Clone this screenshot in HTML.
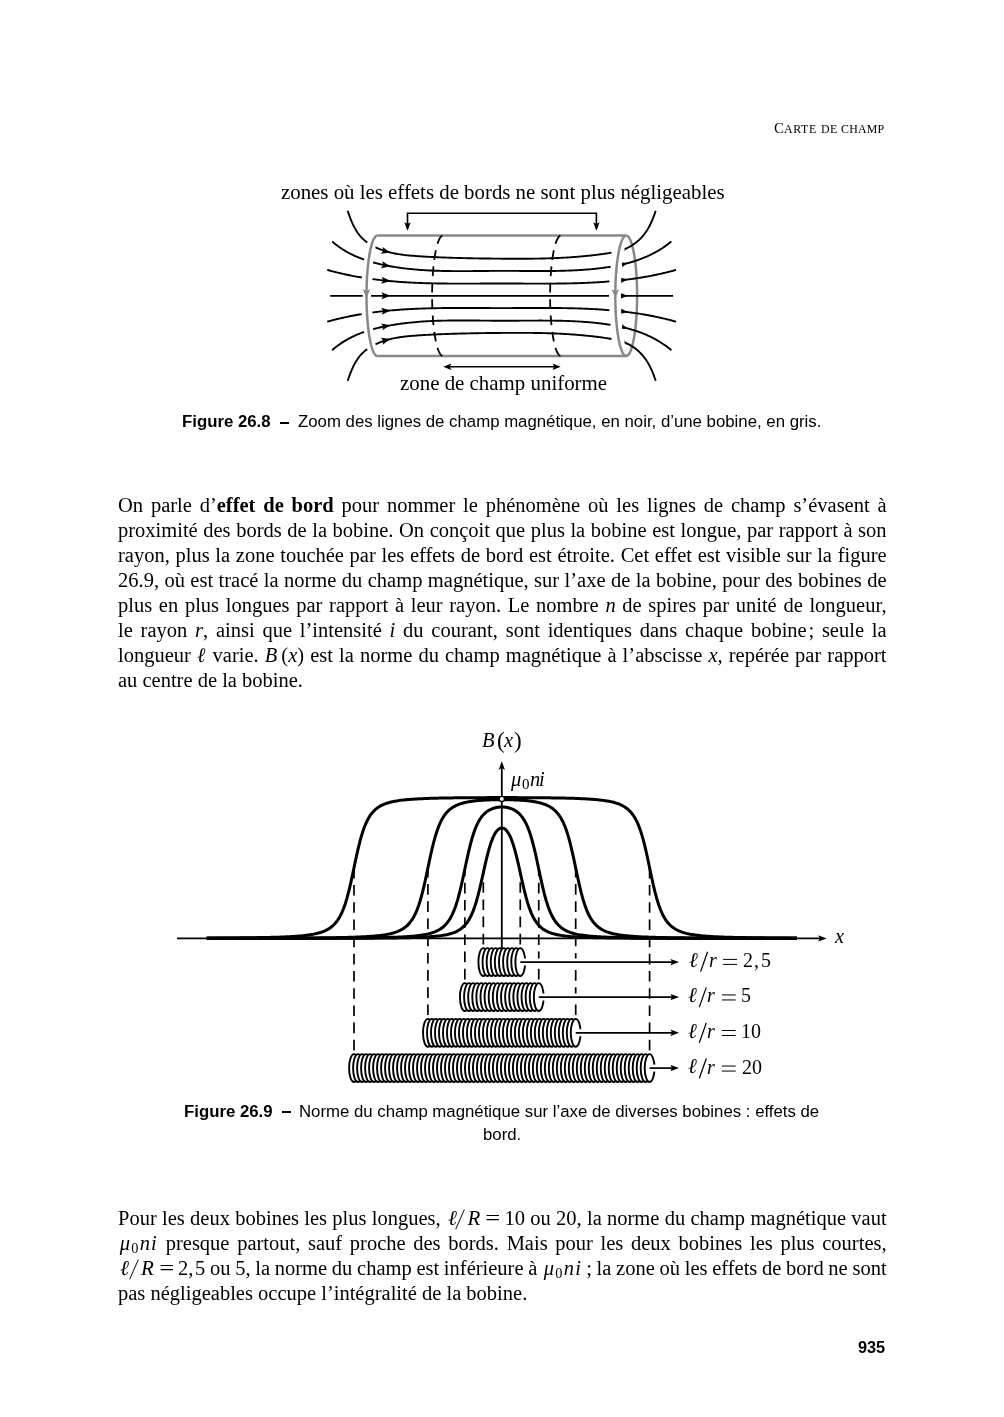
<!DOCTYPE html>
<html><head><meta charset="utf-8"><style>
html,body{margin:0;padding:0;background:#fff;}
body{width:1004px;height:1417px;position:relative;overflow:hidden;font-family:'Liberation Serif', serif;color:#000;}
.ln{position:absolute;will-change:transform;line-height:25px;white-space:nowrap;}
.ab{position:absolute;will-change:transform;white-space:nowrap;}
sub{font-size:0.7em;vertical-align:-0.2em;line-height:0;}
svg{position:absolute;left:0;top:0;}
</style></head><body>
<svg width="1004" height="1417" viewBox="0 0 1004 1417"><defs><clipPath id="cr0"><rect x="624.6" y="150" width="100" height="300"/></clipPath><clipPath id="cr1"><rect x="622.2" y="150" width="100" height="300"/></clipPath><clipPath id="cr2"><rect x="621.3" y="150" width="100" height="300"/></clipPath><clipPath id="cr3"><rect x="621" y="150" width="100" height="300"/></clipPath></defs><polyline points="626.20,235.60 626.77,235.68 627.34,235.93 627.91,236.34 628.47,236.92 629.02,237.65 629.57,238.55 630.11,239.60 630.63,240.80 631.15,242.16 631.65,243.67 632.14,245.31 632.61,247.10 633.06,249.02 633.49,251.06 633.91,253.23 634.30,255.52 634.67,257.91 635.02,260.42 635.34,263.01 635.64,265.70 635.91,268.47 636.16,271.31 636.38,274.23 636.57,277.20 636.73,280.22 636.86,283.28 636.97,286.38 637.04,289.51 637.09,292.65 637.10,295.80 637.09,298.95 637.04,302.09 636.97,305.22 636.86,308.32 636.73,311.38 636.57,314.40 636.38,317.37 636.16,320.29 635.91,323.13 635.64,325.90 635.34,328.59 635.02,331.18 634.67,333.69 634.30,336.08 633.91,338.37 633.49,340.54 633.06,342.58 632.61,344.50 632.14,346.29 631.65,347.93 631.15,349.44 630.63,350.80 630.11,352.00 629.57,353.05 629.02,353.95 628.47,354.68 627.91,355.26 627.34,355.67 626.77,355.92 626.20,356.00" fill="none" stroke="#888888" stroke-width="2.5"/><line x1="377.4" y1="235.60" x2="626.2" y2="235.60" stroke="#888888" stroke-width="2.5"/><line x1="377.4" y1="356.00" x2="626.2" y2="356.00" stroke="#888888" stroke-width="2.5"/><polyline points="377.40,235.60 376.83,235.68 376.26,235.93 375.69,236.34 375.13,236.92 374.58,237.65 374.03,238.55 373.49,239.60 372.97,240.80 372.45,242.16 371.95,243.67 371.46,245.31 370.99,247.10 370.54,249.02 370.11,251.06 369.69,253.23 369.30,255.52 368.93,257.91 368.58,260.42 368.26,263.01 367.96,265.70 367.69,268.47 367.44,271.31 367.22,274.23 367.03,277.20 366.87,280.22 366.74,283.28 366.63,286.38 366.56,289.51 366.51,292.65 366.50,295.80 366.51,298.95 366.56,302.09 366.63,305.22 366.74,308.32 366.87,311.38 367.03,314.40 367.22,317.37 367.44,320.29 367.69,323.13 367.96,325.90 368.26,328.59 368.58,331.18 368.93,333.69 369.30,336.08 369.69,338.37 370.11,340.54 370.54,342.58 370.99,344.50 371.46,346.29 371.95,347.93 372.45,349.44 372.97,350.80 373.49,352.00 374.03,353.05 374.58,353.95 375.13,354.68 375.69,355.26 376.26,355.67 376.83,355.92 377.40,356.00" fill="none" stroke="#888888" stroke-width="2.5"/><polyline points="626.20,235.60 625.63,235.68 625.06,235.93 624.49,236.34 623.93,236.92 623.38,237.65 622.83,238.55 622.29,239.60 621.77,240.80 621.25,242.16 620.75,243.67 620.26,245.31 619.79,247.10 619.34,249.02 618.91,251.06 618.49,253.23 618.10,255.52 617.73,257.91 617.38,260.42 617.06,263.01 616.76,265.70 616.49,268.47 616.24,271.31 616.02,274.23 615.83,277.20 615.67,280.22 615.54,283.28 615.43,286.38 615.36,289.51 615.31,292.65 615.30,295.80 615.31,298.95 615.36,302.09 615.43,305.22 615.54,308.32 615.67,311.38 615.83,314.40 616.02,317.37 616.24,320.29 616.49,323.13 616.76,325.90 617.06,328.59 617.38,331.18 617.73,333.69 618.10,336.08 618.49,338.37 618.91,340.54 619.34,342.58 619.79,344.50 620.26,346.29 620.75,347.93 621.25,349.44 621.77,350.80 622.29,352.00 622.83,353.05 623.38,353.95 623.93,354.68 624.49,355.26 625.06,355.67 625.63,355.92 626.20,356.00" fill="none" stroke="#888888" stroke-width="2.5"/><path d="M366.50,298.20 L362.70,289.00 Q366.50,291.10 366.50,291.60 Q366.50,291.10 370.30,289.00 Z" fill="#888888" stroke="none"/><path d="M615.30,298.20 L611.50,289.00 Q615.30,291.10 615.30,291.60 Q615.30,291.10 619.10,289.00 Z" fill="#888888" stroke="none"/><polyline points="442.43,235.68 442.14,235.79 441.86,235.93 441.58,236.12 441.29,236.34 441.01,236.61 440.73,236.92 440.46,237.26 440.18,237.65 439.90,238.08 439.63,238.55 439.36,239.05 439.09,239.60 438.83,240.18 438.57,240.80 438.31,241.46 438.05,242.16 437.80,242.90 437.55,243.67 437.30,244.47 437.06,245.31 436.83,246.19 436.59,247.10 436.36,248.04 436.14,249.02 435.92,250.02 435.71,251.06 435.50,252.13 435.29,253.23 435.09,254.36 434.90,255.52 434.71,256.70 434.53,257.91 434.35,259.15 434.18,260.42 434.02,261.70 433.86,263.01 433.71,264.35 433.56,265.70 433.42,267.08 433.29,268.47 433.16,269.88 433.04,271.31 432.93,272.76 432.82,274.23 432.73,275.70 432.63,277.20 432.55,278.70 432.47,280.22 432.40,281.75 432.34,283.28 432.28,284.83 432.23,286.38 432.19,287.94 432.16,289.51 432.13,291.08 432.11,292.65 432.10,294.22 432.10,295.80 432.10,297.38 432.11,298.95 432.13,300.52 432.16,302.09 432.19,303.66 432.23,305.22 432.28,306.77 432.34,308.32 432.40,309.85 432.47,311.38 432.55,312.90 432.63,314.40 432.73,315.90 432.82,317.37 432.93,318.84 433.04,320.29 433.16,321.72 433.29,323.13 433.42,324.52 433.56,325.90 433.71,327.25 433.86,328.59 434.02,329.90 434.18,331.18 434.35,332.45 434.53,333.69 434.71,334.90 434.90,336.08 435.09,337.24 435.29,338.37 435.50,339.47 435.71,340.54 435.92,341.58 436.14,342.58 436.36,343.56 436.59,344.50 436.83,345.41 437.06,346.29 437.30,347.13 437.55,347.93 437.80,348.70 438.05,349.44 438.31,350.14 438.57,350.80 438.83,351.42 439.09,352.00 439.36,352.55 439.63,353.05 439.90,353.52 440.18,353.95 440.46,354.34 440.73,354.68 441.01,354.99 441.29,355.26 441.58,355.48 441.86,355.67 442.14,355.81 442.43,355.92" fill="none" stroke="#000" stroke-width="1.8" stroke-dasharray="9.69 6.7"/><polyline points="560.43,235.68 560.14,235.79 559.86,235.93 559.58,236.12 559.29,236.34 559.01,236.61 558.73,236.92 558.46,237.26 558.18,237.65 557.90,238.08 557.63,238.55 557.36,239.05 557.09,239.60 556.83,240.18 556.57,240.80 556.31,241.46 556.05,242.16 555.80,242.90 555.55,243.67 555.30,244.47 555.06,245.31 554.83,246.19 554.59,247.10 554.36,248.04 554.14,249.02 553.92,250.02 553.71,251.06 553.50,252.13 553.29,253.23 553.09,254.36 552.90,255.52 552.71,256.70 552.53,257.91 552.35,259.15 552.18,260.42 552.02,261.70 551.86,263.01 551.71,264.35 551.56,265.70 551.42,267.08 551.29,268.47 551.16,269.88 551.04,271.31 550.93,272.76 550.82,274.23 550.73,275.70 550.63,277.20 550.55,278.70 550.47,280.22 550.40,281.75 550.34,283.28 550.28,284.83 550.23,286.38 550.19,287.94 550.16,289.51 550.13,291.08 550.11,292.65 550.10,294.22 550.10,295.80 550.10,297.38 550.11,298.95 550.13,300.52 550.16,302.09 550.19,303.66 550.23,305.22 550.28,306.77 550.34,308.32 550.40,309.85 550.47,311.38 550.55,312.90 550.63,314.40 550.73,315.90 550.82,317.37 550.93,318.84 551.04,320.29 551.16,321.72 551.29,323.13 551.42,324.52 551.56,325.90 551.71,327.25 551.86,328.59 552.02,329.90 552.18,331.18 552.35,332.45 552.53,333.69 552.71,334.90 552.90,336.08 553.09,337.24 553.29,338.37 553.50,339.47 553.71,340.54 553.92,341.58 554.14,342.58 554.36,343.56 554.59,344.50 554.83,345.41 555.06,346.29 555.30,347.13 555.55,347.93 555.80,348.70 556.05,349.44 556.31,350.14 556.57,350.80 556.83,351.42 557.09,352.00 557.36,352.55 557.63,353.05 557.90,353.52 558.18,353.95 558.46,354.34 558.73,354.68 559.01,354.99 559.29,355.26 559.58,355.48 559.86,355.67 560.14,355.81 560.43,355.92" fill="none" stroke="#000" stroke-width="1.8" stroke-dasharray="9.69 6.7"/><polyline points="347.67,210.75 348.10,212.04 348.54,213.34 349.00,214.64 349.46,215.93 349.93,217.22 350.42,218.51 350.92,219.79 351.44,221.06 351.98,222.32 352.54,223.56 353.11,224.80 353.71,226.02 354.33,227.23 354.98,228.41 355.65,229.58 356.34,230.73 357.07,231.86 357.82,232.96 358.61,234.04 359.43,235.10 360.28,236.12 361.16,237.12 362.08,238.08 363.04,239.02 364.03,239.92 365.06,240.79 366.12,241.63 367.21,242.43" fill="none" stroke="#000" stroke-width="1.9" stroke-linecap="butt" stroke-linejoin="round"/><polyline points="375.47,247.26 376.71,247.84 377.96,248.39 379.22,248.92 380.49,249.42 381.76,249.90 383.03,250.35 384.30,250.78 385.58,251.18 386.86,251.57 388.14,251.93 389.43,252.27 390.72,252.59 392.01,252.90 393.30,253.18 394.60,253.45 395.89,253.70 397.20,253.94 398.50,254.16 399.81,254.37 401.11,254.56 402.42,254.74 403.74,254.91 405.05,255.07 406.37,255.21 407.69,255.35 409.01,255.48 410.33,255.60 411.66,255.71 412.99,255.82 414.32,255.92 415.65,256.02 416.98,256.11 418.32,256.20 419.65,256.28 420.99,256.37 422.33,256.45 423.67,256.53 425.02,256.60 426.36,256.68 427.71,256.75 429.05,256.83 430.40,256.90 431.75,256.96 433.10,257.03 434.46,257.10 435.81,257.16 437.16,257.22 438.52,257.28 439.88,257.34 441.24,257.39 442.59,257.45 443.95,257.50 445.31,257.56 446.68,257.61 448.04,257.65 449.40,257.70 450.76,257.75 452.13,257.79 453.49,257.84 454.86,257.88 456.22,257.92 457.59,257.96 458.96,258.00 460.32,258.03 461.69,258.07 463.06,258.10 464.43,258.14 465.79,258.17 467.16,258.20 468.53,258.23 469.90,258.26 471.26,258.29 472.63,258.31 474.00,258.34 475.37,258.36 476.73,258.39 478.10,258.41 479.47,258.43 480.83,258.45 482.20,258.47 483.57,258.49 484.93,258.51 486.30,258.53 487.66,258.54 489.02,258.56 490.39,258.57 491.75,258.59 493.11,258.60 494.47,258.62 495.83,258.63 497.19,258.64 498.54,258.65 499.90,258.67 501.26,258.68 502.61,258.69 503.96,258.70 505.32,258.70 506.67,258.71 508.02,258.72 509.37,258.73 510.72,258.73 512.06,258.74 513.41,258.74 514.76,258.75 516.10,258.75 517.44,258.75 518.79,258.75 520.13,258.75 521.47,258.75 522.81,258.75 524.16,258.74 525.50,258.74 526.83,258.73 528.17,258.72 529.51,258.71 530.85,258.69 532.19,258.68 533.53,258.66 534.86,258.65 536.20,258.63 537.54,258.60 538.87,258.58 540.21,258.56 541.54,258.53 542.88,258.50 544.22,258.46 545.55,258.43 546.89,258.39 548.22,258.35 549.56,258.31 550.89,258.27 552.23,258.22 553.56,258.17 554.90,258.12 556.23,258.06 557.57,258.00 558.91,257.94 560.24,257.88 561.58,257.81 562.92,257.74 564.25,257.67 565.59,257.59 566.93,257.51 568.27,257.43 569.61,257.34 570.95,257.25 572.29,257.16 573.63,257.06 574.97,256.96 576.31,256.86 577.66,256.75 579.00,256.64 580.34,256.52 581.69,256.40 583.03,256.28 584.38,256.15 585.73,256.02 587.08,255.89 588.42,255.75 589.78,255.60 591.13,255.46 592.48,255.30 593.83,255.15 595.19,254.99 596.54,254.82 597.90,254.65 599.26,254.47 600.62,254.29 601.98,254.11 603.34,253.92 604.70,253.73 606.06,253.53 607.43,253.32 608.79,253.10 610.14,252.87 611.49,252.62" fill="none" stroke="#000" stroke-width="1.9" stroke-linecap="butt" stroke-linejoin="round"/><polyline points="625.78,248.59 626.99,248.06 628.19,247.49 629.36,246.89 630.52,246.25 631.66,245.57 632.77,244.87 633.87,244.12 634.94,243.35 635.99,242.55 637.02,241.71 638.03,240.84 639.01,239.95 639.97,239.02 640.90,238.07 641.81,237.09 642.70,236.09 643.56,235.05 644.39,234.00 645.20,232.92 645.99,231.81 646.74,230.68 647.47,229.54 648.17,228.37 648.85,227.18 649.50,225.97 650.13,224.75 650.74,223.52 651.32,222.27 651.88,221.01 652.42,219.74 652.94,218.47 653.44,217.19 653.92,215.91 654.38,214.62 654.83,213.33 655.26,212.04 655.67,210.76" fill="none" stroke="#000" stroke-width="1.9" stroke-linecap="butt" stroke-linejoin="round"/><path d="M390.40,252.51 L380.92,253.75 Q383.32,250.74 383.80,250.86 Q383.32,250.74 382.62,246.96 Z" fill="#000" stroke="none"/><path d="M627.80,247.67 L621.35,254.38 Q621.38,250.71 621.84,250.50 Q621.38,250.71 618.52,248.42 Z" fill="#000" stroke="none" clip-path="url(#cr0)"/><polyline points="332.17,241.45 333.24,242.37 334.32,243.27 335.41,244.14 336.51,245.00 337.62,245.83 338.74,246.65 339.87,247.44 341.00,248.22 342.15,248.98 343.30,249.71 344.47,250.43 345.64,251.13 346.82,251.81 348.01,252.48 349.20,253.12 350.41,253.75 351.62,254.36 352.83,254.96 354.06,255.53 355.29,256.10 356.52,256.64 357.77,257.17 359.02,257.69 360.27,258.19 361.53,258.67 362.80,259.14 364.07,259.60" fill="none" stroke="#000" stroke-width="1.9" stroke-linecap="butt" stroke-linejoin="round"/><polyline points="373.09,262.42 374.39,262.77 375.70,263.12 377.01,263.45 378.32,263.77 379.63,264.08 380.95,264.38 382.27,264.67 383.59,264.95 384.92,265.22 386.24,265.49 387.57,265.74 388.89,265.99 390.22,266.23 391.55,266.46 392.88,266.69 394.21,266.91 395.54,267.12 396.87,267.32 398.20,267.52 399.53,267.71 400.86,267.89 402.20,268.07 403.53,268.24 404.86,268.41 406.20,268.57 407.53,268.72 408.87,268.87 410.20,269.01 411.54,269.14 412.88,269.27 414.22,269.40 415.55,269.52 416.89,269.63 418.23,269.74 419.57,269.84 420.91,269.94 422.25,270.04 423.60,270.13 424.94,270.21 426.28,270.29 427.62,270.36 428.97,270.44 430.31,270.50 431.66,270.56 433.00,270.62 434.35,270.68 435.69,270.73 437.04,270.78 438.39,270.82 439.73,270.86 441.08,270.90 442.43,270.93 443.78,270.96 445.13,270.99 446.48,271.02 447.83,271.04 449.18,271.06 450.53,271.07 451.88,271.09 453.24,271.10 454.59,271.11 455.94,271.12 457.30,271.12 458.65,271.12 460.01,271.13 461.36,271.13 462.72,271.12 464.07,271.12 465.43,271.12 466.79,271.11 468.14,271.10 469.50,271.09 470.86,271.09 472.22,271.08 473.58,271.06 474.93,271.05 476.29,271.04 477.65,271.03 479.01,271.02 480.38,271.00 481.74,270.99 483.10,270.98 484.46,270.96 485.82,270.95 487.19,270.94 488.55,270.93 489.91,270.91 491.28,270.90 492.64,270.89 494.01,270.88 495.37,270.87 496.74,270.87 498.10,270.86 499.47,270.86 500.84,270.85 502.20,270.85 503.57,270.85 504.94,270.85 506.30,270.85 507.67,270.86 509.04,270.86 510.41,270.87 511.78,270.87 513.15,270.88 514.52,270.89 515.89,270.90 517.26,270.91 518.62,270.92 519.99,270.93 521.36,270.94 522.73,270.95 524.10,270.95 525.47,270.96 526.84,270.97 528.21,270.98 529.58,270.99 530.95,271.00 532.32,271.01 533.68,271.01 535.05,271.02 536.42,271.02 537.79,271.03 539.16,271.03 540.52,271.03 541.89,271.03 543.26,271.03 544.62,271.03 545.99,271.02 547.35,271.01 548.72,271.00 550.08,270.99 551.44,270.98 552.81,270.97 554.17,270.95 555.53,270.93 556.89,270.91 558.25,270.88 559.61,270.85 560.97,270.82 562.33,270.79 563.69,270.75 565.05,270.71 566.40,270.67 567.76,270.62 569.11,270.57 570.47,270.52 571.82,270.46 573.17,270.40 574.52,270.34 575.87,270.27 577.22,270.20 578.57,270.12 579.91,270.04 581.26,269.95 582.60,269.86 583.95,269.77 585.29,269.67 586.63,269.56 587.97,269.46 589.31,269.34 590.65,269.22 591.98,269.10 593.32,268.97 594.65,268.83 595.99,268.69 597.32,268.54 598.65,268.39 599.97,268.23 601.30,268.07 602.63,267.90 603.95,267.72 605.27,267.54 606.59,267.35 607.91,267.16 609.23,266.95 610.55,266.74" fill="none" stroke="#000" stroke-width="1.9" stroke-linecap="butt" stroke-linejoin="round"/><polyline points="622.31,264.46 623.61,264.16 624.91,263.85 626.20,263.52 627.50,263.19 628.79,262.84 630.08,262.49 631.36,262.11 632.65,261.73 633.93,261.34 635.21,260.93 636.49,260.51 637.76,260.07 639.03,259.62 640.30,259.16 641.56,258.68 642.82,258.19 644.07,257.69 645.33,257.17 646.57,256.63 647.81,256.08 649.05,255.51 650.28,254.93 651.51,254.33 652.73,253.72 653.94,253.09 655.15,252.44 656.36,251.77 657.55,251.09 658.74,250.39 659.93,249.67 661.10,248.93 662.27,248.18 663.43,247.40 664.59,246.61 665.73,245.80 666.87,244.97 668.00,244.12 669.12,243.25 670.23,242.36 671.34,241.45" fill="none" stroke="#000" stroke-width="1.9" stroke-linecap="butt" stroke-linejoin="round"/><path d="M390.40,266.26 L381.03,268.17 Q383.21,265.00 383.70,265.09 Q383.21,265.00 382.24,261.28 Z" fill="#000" stroke="none"/><path d="M627.80,263.11 L620.25,268.55 Q620.94,264.95 621.43,264.82 Q620.94,264.95 618.54,262.18 Z" fill="#000" stroke="none" clip-path="url(#cr1)"/><polyline points="327.23,269.90 328.55,270.27 329.87,270.63 331.19,270.98 332.51,271.33 333.84,271.67 335.16,272.01 336.49,272.34 337.81,272.66 339.14,272.98 340.46,273.29 341.79,273.59 343.12,273.89 344.44,274.19 345.77,274.47 347.10,274.76 348.43,275.03 349.76,275.30 351.09,275.57 352.42,275.83 353.75,276.08 355.08,276.33 356.42,276.57 357.75,276.81 359.08,277.04 360.42,277.27 361.75,277.49" fill="none" stroke="#000" stroke-width="1.9" stroke-linecap="butt" stroke-linejoin="round"/><polyline points="372.45,279.08 373.78,279.26 375.12,279.43 376.46,279.60 377.80,279.77 379.14,279.93 380.48,280.08 381.83,280.23 383.17,280.38 384.51,280.52 385.85,280.66 387.20,280.80 388.54,280.93 389.88,281.05 391.23,281.18 392.57,281.30 393.92,281.41 395.26,281.52 396.61,281.63 397.95,281.73 399.30,281.83 400.65,281.93 401.99,282.03 403.34,282.12 404.69,282.20 406.04,282.29 407.39,282.37 408.74,282.44 410.08,282.52 411.43,282.59 412.78,282.66 414.13,282.72 415.48,282.79 416.84,282.85 418.19,282.90 419.54,282.96 420.89,283.01 422.24,283.06 423.59,283.11 424.95,283.15 426.30,283.19 427.65,283.23 429.00,283.27 430.36,283.30 431.71,283.34 433.07,283.37 434.42,283.40 435.77,283.42 437.13,283.45 438.48,283.47 439.84,283.49 441.19,283.51 442.55,283.53 443.91,283.55 445.26,283.56 446.62,283.57 447.97,283.58 449.33,283.59 450.69,283.60 452.04,283.61 453.40,283.62 454.76,283.62 456.12,283.63 457.47,283.63 458.83,283.63 460.19,283.63 461.55,283.63 462.90,283.63 464.26,283.63 465.62,283.63 466.98,283.62 468.34,283.62 469.70,283.62 471.06,283.61 472.42,283.61 473.77,283.60 475.13,283.59 476.49,283.59 477.85,283.58 479.21,283.58 480.57,283.57 481.93,283.56 483.29,283.56 484.65,283.55 486.01,283.54 487.37,283.54 488.73,283.53 490.09,283.53 491.45,283.52 492.81,283.52 494.17,283.51 495.53,283.51 496.89,283.51 498.25,283.50 499.61,283.50 500.97,283.50 502.33,283.50 503.69,283.50 505.05,283.50 506.41,283.51 507.77,283.51 509.13,283.51 510.49,283.52 511.85,283.52 513.21,283.53 514.57,283.53 515.93,283.54 517.29,283.54 518.65,283.55 520.01,283.56 521.37,283.56 522.73,283.57 524.09,283.58 525.45,283.58 526.81,283.59 528.17,283.59 529.53,283.60 530.88,283.61 532.24,283.61 533.60,283.62 534.96,283.62 536.32,283.62 537.68,283.63 539.04,283.63 540.40,283.63 541.75,283.63 543.11,283.63 544.47,283.63 545.83,283.63 547.18,283.63 548.54,283.62 549.90,283.62 551.26,283.61 552.61,283.60 553.97,283.59 555.33,283.58 556.68,283.57 558.04,283.56 559.39,283.55 560.75,283.53 562.11,283.51 563.46,283.49 564.82,283.47 566.17,283.45 567.53,283.42 568.88,283.40 570.23,283.37 571.59,283.34 572.94,283.30 574.30,283.27 575.65,283.23 577.00,283.19 578.35,283.15 579.71,283.11 581.06,283.06 582.41,283.01 583.76,282.96 585.11,282.90 586.46,282.85 587.82,282.79 589.17,282.72 590.52,282.66 591.87,282.59 593.22,282.52 594.56,282.44 595.91,282.37 597.26,282.29 598.61,282.20 599.96,282.12 601.31,282.03 602.65,281.93 604.00,281.83 605.35,281.73 606.69,281.63 608.04,281.52 609.38,281.41" fill="none" stroke="#000" stroke-width="1.9" stroke-linecap="butt" stroke-linejoin="round"/><polyline points="621.47,280.23 622.82,280.08 624.16,279.93 625.50,279.77 626.84,279.60 628.18,279.43 629.52,279.26 630.85,279.08 632.19,278.90 633.53,278.71 634.87,278.52 636.20,278.32 637.54,278.12 638.88,277.92 640.21,277.70 641.55,277.49 642.88,277.27 644.22,277.04 645.55,276.81 646.88,276.57 648.22,276.33 649.55,276.08 650.88,275.83 652.21,275.57 653.54,275.30 654.87,275.03 656.20,274.76 657.53,274.47 658.86,274.19 660.18,273.89 661.51,273.59 662.84,273.29 664.16,272.98 665.49,272.66 666.81,272.34 668.14,272.01 669.46,271.67 670.79,271.33 672.11,270.98 673.43,270.63 674.75,270.27 676.07,269.90" fill="none" stroke="#000" stroke-width="1.9" stroke-linecap="butt" stroke-linejoin="round"/><path d="M390.40,281.10 L381.22,283.78 Q383.13,280.44 383.63,280.48 Q383.13,280.44 381.86,276.81 Z" fill="#000" stroke="none"/><path d="M627.80,279.48 L619.58,283.84 Q620.76,280.37 621.25,280.31 Q620.76,280.37 618.76,277.29 Z" fill="#000" stroke="none" clip-path="url(#cr2)"/><line x1="330.2" y1="295.8" x2="362.7" y2="295.8" stroke="#000" stroke-width="1.8"/><line x1="371.1" y1="295.8" x2="609" y2="295.8" stroke="#000" stroke-width="1.8"/><line x1="621" y1="295.8" x2="673.1" y2="295.8" stroke="#000" stroke-width="1.8"/><path d="M390.40,295.80 L381.50,299.30 Q383.10,295.80 383.60,295.80 Q383.10,295.80 381.50,292.30 Z" fill="#000" stroke="none"/><path d="M627.80,295.80 L619.10,299.10 Q620.70,295.80 621.20,295.80 Q620.70,295.80 619.10,292.50 Z" fill="#000" stroke="none" clip-path="url(#cr3)"/><polyline points="327.23,321.70 328.55,321.33 329.87,320.97 331.19,320.62 332.51,320.27 333.84,319.93 335.16,319.59 336.49,319.26 337.81,318.94 339.14,318.62 340.46,318.31 341.79,318.01 343.12,317.71 344.44,317.41 345.77,317.13 347.10,316.84 348.43,316.57 349.76,316.30 351.09,316.03 352.42,315.77 353.75,315.52 355.08,315.27 356.42,315.03 357.75,314.79 359.08,314.56 360.42,314.33 361.75,314.11" fill="none" stroke="#000" stroke-width="1.9" stroke-linecap="butt" stroke-linejoin="round"/><polyline points="372.45,312.52 373.78,312.34 375.12,312.17 376.46,312.00 377.80,311.83 379.14,311.67 380.48,311.52 381.83,311.37 383.17,311.22 384.51,311.08 385.85,310.94 387.20,310.80 388.54,310.67 389.88,310.55 391.23,310.42 392.57,310.30 393.92,310.19 395.26,310.08 396.61,309.97 397.95,309.87 399.30,309.77 400.65,309.67 401.99,309.57 403.34,309.48 404.69,309.40 406.04,309.31 407.39,309.23 408.74,309.16 410.08,309.08 411.43,309.01 412.78,308.94 414.13,308.88 415.48,308.81 416.84,308.75 418.19,308.70 419.54,308.64 420.89,308.59 422.24,308.54 423.59,308.49 424.95,308.45 426.30,308.41 427.65,308.37 429.00,308.33 430.36,308.30 431.71,308.26 433.07,308.23 434.42,308.20 435.77,308.18 437.13,308.15 438.48,308.13 439.84,308.11 441.19,308.09 442.55,308.07 443.91,308.05 445.26,308.04 446.62,308.03 447.97,308.02 449.33,308.01 450.69,308.00 452.04,307.99 453.40,307.98 454.76,307.98 456.12,307.97 457.47,307.97 458.83,307.97 460.19,307.97 461.55,307.97 462.90,307.97 464.26,307.97 465.62,307.97 466.98,307.98 468.34,307.98 469.70,307.98 471.06,307.99 472.42,307.99 473.77,308.00 475.13,308.01 476.49,308.01 477.85,308.02 479.21,308.02 480.57,308.03 481.93,308.04 483.29,308.04 484.65,308.05 486.01,308.06 487.37,308.06 488.73,308.07 490.09,308.07 491.45,308.08 492.81,308.08 494.17,308.09 495.53,308.09 496.89,308.09 498.25,308.10 499.61,308.10 500.97,308.10 502.33,308.10 503.69,308.10 505.05,308.10 506.41,308.09 507.77,308.09 509.13,308.09 510.49,308.08 511.85,308.08 513.21,308.07 514.57,308.07 515.93,308.06 517.29,308.06 518.65,308.05 520.01,308.04 521.37,308.04 522.73,308.03 524.09,308.02 525.45,308.02 526.81,308.01 528.17,308.01 529.53,308.00 530.88,307.99 532.24,307.99 533.60,307.98 534.96,307.98 536.32,307.98 537.68,307.97 539.04,307.97 540.40,307.97 541.75,307.97 543.11,307.97 544.47,307.97 545.83,307.97 547.18,307.97 548.54,307.98 549.90,307.98 551.26,307.99 552.61,308.00 553.97,308.01 555.33,308.02 556.68,308.03 558.04,308.04 559.39,308.05 560.75,308.07 562.11,308.09 563.46,308.11 564.82,308.13 566.17,308.15 567.53,308.18 568.88,308.20 570.23,308.23 571.59,308.26 572.94,308.30 574.30,308.33 575.65,308.37 577.00,308.41 578.35,308.45 579.71,308.49 581.06,308.54 582.41,308.59 583.76,308.64 585.11,308.70 586.46,308.75 587.82,308.81 589.17,308.88 590.52,308.94 591.87,309.01 593.22,309.08 594.56,309.16 595.91,309.23 597.26,309.31 598.61,309.40 599.96,309.48 601.31,309.57 602.65,309.67 604.00,309.77 605.35,309.87 606.69,309.97 608.04,310.08 609.38,310.19" fill="none" stroke="#000" stroke-width="1.9" stroke-linecap="butt" stroke-linejoin="round"/><polyline points="621.47,311.37 622.82,311.52 624.16,311.67 625.50,311.83 626.84,312.00 628.18,312.17 629.52,312.34 630.85,312.52 632.19,312.70 633.53,312.89 634.87,313.08 636.20,313.28 637.54,313.48 638.88,313.68 640.21,313.90 641.55,314.11 642.88,314.33 644.22,314.56 645.55,314.79 646.88,315.03 648.22,315.27 649.55,315.52 650.88,315.77 652.21,316.03 653.54,316.30 654.87,316.57 656.20,316.84 657.53,317.13 658.86,317.41 660.18,317.71 661.51,318.01 662.84,318.31 664.16,318.62 665.49,318.94 666.81,319.26 668.14,319.59 669.46,319.93 670.79,320.27 672.11,320.62 673.43,320.97 674.75,321.33 676.07,321.70" fill="none" stroke="#000" stroke-width="1.9" stroke-linecap="butt" stroke-linejoin="round"/><path d="M390.40,310.50 L381.86,314.79 Q383.13,311.16 383.63,311.12 Q383.13,311.16 381.22,307.82 Z" fill="#000" stroke="none"/><path d="M627.80,312.12 L618.76,314.31 Q620.76,311.23 621.25,311.29 Q620.76,311.23 619.58,307.76 Z" fill="#000" stroke="none" clip-path="url(#cr2)"/><polyline points="332.17,350.18 333.24,349.25 334.32,348.35 335.41,347.46 336.51,346.60 337.62,345.76 338.74,344.94 339.87,344.14 341.00,343.36 342.15,342.60 343.30,341.86 344.47,341.14 345.64,340.44 346.82,339.76 348.01,339.10 349.20,338.45 350.41,337.83 351.62,337.21 352.83,336.62 354.06,336.04 355.29,335.48 356.52,334.94 357.77,334.41 359.02,333.90 360.27,333.40 361.53,332.92 362.80,332.45 364.07,332.00" fill="none" stroke="#000" stroke-width="1.9" stroke-linecap="butt" stroke-linejoin="round"/><polyline points="373.09,329.18 374.39,328.83 375.70,328.49 377.01,328.16 378.32,327.84 379.63,327.53 380.95,327.23 382.27,326.94 383.59,326.66 384.92,326.39 386.24,326.12 387.57,325.87 388.89,325.62 390.22,325.38 391.55,325.15 392.88,324.92 394.21,324.70 395.54,324.49 396.87,324.29 398.20,324.09 399.53,323.90 400.86,323.72 402.20,323.54 403.53,323.37 404.86,323.20 406.20,323.04 407.53,322.89 408.87,322.74 410.20,322.60 411.54,322.46 412.88,322.33 414.22,322.21 415.55,322.09 416.89,321.98 418.23,321.87 419.57,321.76 420.91,321.66 422.25,321.57 423.60,321.48 424.94,321.40 426.28,321.32 427.62,321.24 428.97,321.17 430.31,321.10 431.66,321.04 433.00,320.98 434.35,320.92 435.69,320.87 437.04,320.82 438.39,320.78 439.73,320.74 441.08,320.70 442.43,320.67 443.78,320.64 445.13,320.61 446.48,320.58 447.83,320.56 449.18,320.54 450.53,320.52 451.88,320.51 453.24,320.50 454.59,320.49 455.94,320.48 457.30,320.47 458.65,320.47 460.01,320.47 461.36,320.47 462.72,320.47 464.07,320.47 465.43,320.48 466.79,320.48 468.14,320.49 469.50,320.50 470.86,320.51 472.22,320.52 473.58,320.53 474.93,320.54 476.29,320.55 477.65,320.56 479.01,320.57 480.38,320.59 481.74,320.60 483.10,320.61 484.46,320.63 485.82,320.64 487.19,320.65 488.55,320.66 489.91,320.67 491.28,320.69 492.64,320.70 494.01,320.71 495.37,320.71 496.74,320.72 498.10,320.73 499.47,320.73 500.84,320.74 502.20,320.74 503.57,320.74 504.94,320.74 506.30,320.74 507.67,320.73 509.04,320.73 510.41,320.72 511.78,320.72 513.15,320.71 514.52,320.70 515.89,320.70 517.26,320.69 518.62,320.68 519.99,320.67 521.36,320.66 522.73,320.65 524.10,320.64 525.47,320.63 526.84,320.62 528.21,320.62 529.58,320.61 530.95,320.60 532.32,320.59 533.68,320.59 535.05,320.58 536.42,320.58 537.79,320.58 539.16,320.57 540.52,320.57 541.89,320.57 543.26,320.58 544.62,320.58 545.99,320.59 547.35,320.59 548.72,320.60 550.08,320.61 551.44,320.63 552.81,320.64 554.17,320.66 555.53,320.68 556.89,320.70 558.25,320.73 559.61,320.76 560.97,320.79 562.33,320.82 563.69,320.86 565.05,320.90 566.40,320.94 567.76,320.99 569.11,321.04 570.47,321.09 571.82,321.15 573.17,321.21 574.52,321.28 575.87,321.34 577.22,321.42 578.57,321.49 579.91,321.58 581.26,321.66 582.60,321.75 583.95,321.85 585.29,321.94 586.63,322.05 587.97,322.16 589.31,322.27 590.65,322.39 591.98,322.51 593.32,322.64 594.65,322.78 595.99,322.92 597.32,323.06 598.65,323.21 599.97,323.37 601.30,323.54 602.63,323.70 603.95,323.88 605.27,324.06 606.59,324.25 607.91,324.44 609.23,324.65 610.55,324.85" fill="none" stroke="#000" stroke-width="1.9" stroke-linecap="butt" stroke-linejoin="round"/><polyline points="622.31,327.13 623.61,327.43 624.91,327.74 626.20,328.06 627.50,328.40 628.79,328.74 630.08,329.10 631.36,329.47 632.65,329.86 633.93,330.25 635.21,330.66 636.49,331.08 637.76,331.52 639.03,331.97 640.30,332.43 641.56,332.91 642.82,333.40 644.07,333.91 645.33,334.43 646.57,334.97 647.81,335.52 649.05,336.09 650.28,336.67 651.51,337.27 652.73,337.89 653.94,338.52 655.15,339.17 656.36,339.84 657.55,340.52 658.74,341.22 659.93,341.94 661.10,342.68 662.27,343.43 663.43,344.20 664.59,345.00 665.73,345.81 666.87,346.64 668.00,347.48 669.12,348.35 670.23,349.24 671.34,350.15" fill="none" stroke="#000" stroke-width="1.9" stroke-linecap="butt" stroke-linejoin="round"/><path d="M390.40,325.35 L382.24,330.33 Q383.21,326.61 383.70,326.52 Q383.21,326.61 381.03,323.43 Z" fill="#000" stroke="none"/><path d="M627.80,328.48 L618.54,329.41 Q620.94,326.64 621.43,326.77 Q620.94,326.64 620.25,323.04 Z" fill="#000" stroke="none" clip-path="url(#cr1)"/><polyline points="347.67,380.85 348.10,379.56 348.54,378.26 349.00,376.96 349.46,375.67 349.93,374.38 350.42,373.09 350.92,371.81 351.44,370.54 351.98,369.28 352.54,368.04 353.11,366.80 353.71,365.58 354.33,364.37 354.98,363.19 355.65,362.02 356.34,360.87 357.07,359.74 357.82,358.64 358.61,357.56 359.43,356.50 360.28,355.48 361.16,354.48 362.08,353.52 363.04,352.58 364.03,351.68 365.06,350.81 366.12,349.97 367.21,349.17" fill="none" stroke="#000" stroke-width="1.9" stroke-linecap="butt" stroke-linejoin="round"/><polyline points="375.47,344.34 376.71,343.76 377.96,343.21 379.22,342.68 380.49,342.18 381.76,341.70 383.03,341.25 384.30,340.82 385.58,340.42 386.86,340.03 388.14,339.67 389.43,339.33 390.72,339.01 392.01,338.70 393.30,338.42 394.60,338.15 395.89,337.90 397.20,337.66 398.50,337.44 399.81,337.23 401.11,337.04 402.42,336.86 403.74,336.69 405.05,336.53 406.37,336.39 407.69,336.25 409.01,336.12 410.33,336.00 411.66,335.89 412.99,335.78 414.32,335.68 415.65,335.58 416.98,335.49 418.32,335.40 419.65,335.32 420.99,335.23 422.33,335.15 423.67,335.07 425.02,335.00 426.36,334.92 427.71,334.85 429.05,334.77 430.40,334.70 431.75,334.64 433.10,334.57 434.46,334.50 435.81,334.44 437.16,334.38 438.52,334.32 439.88,334.26 441.24,334.21 442.59,334.15 443.95,334.10 445.31,334.04 446.68,333.99 448.04,333.95 449.40,333.90 450.76,333.85 452.13,333.81 453.49,333.76 454.86,333.72 456.22,333.68 457.59,333.64 458.96,333.60 460.32,333.57 461.69,333.53 463.06,333.50 464.43,333.46 465.79,333.43 467.16,333.40 468.53,333.37 469.90,333.34 471.26,333.31 472.63,333.29 474.00,333.26 475.37,333.24 476.73,333.21 478.10,333.19 479.47,333.17 480.83,333.15 482.20,333.13 483.57,333.11 484.93,333.09 486.30,333.07 487.66,333.06 489.02,333.04 490.39,333.03 491.75,333.01 493.11,333.00 494.47,332.98 495.83,332.97 497.19,332.96 498.54,332.95 499.90,332.93 501.26,332.92 502.61,332.91 503.96,332.90 505.32,332.90 506.67,332.89 508.02,332.88 509.37,332.87 510.72,332.87 512.06,332.86 513.41,332.86 514.76,332.85 516.10,332.85 517.44,332.85 518.79,332.85 520.13,332.85 521.47,332.85 522.81,332.85 524.16,332.86 525.50,332.86 526.83,332.87 528.17,332.88 529.51,332.89 530.85,332.91 532.19,332.92 533.53,332.94 534.86,332.95 536.20,332.97 537.54,333.00 538.87,333.02 540.21,333.04 541.54,333.07 542.88,333.10 544.22,333.14 545.55,333.17 546.89,333.21 548.22,333.25 549.56,333.29 550.89,333.33 552.23,333.38 553.56,333.43 554.90,333.48 556.23,333.54 557.57,333.60 558.91,333.66 560.24,333.72 561.58,333.79 562.92,333.86 564.25,333.93 565.59,334.01 566.93,334.09 568.27,334.17 569.61,334.26 570.95,334.35 572.29,334.44 573.63,334.54 574.97,334.64 576.31,334.74 577.66,334.85 579.00,334.96 580.34,335.08 581.69,335.20 583.03,335.32 584.38,335.45 585.73,335.58 587.08,335.71 588.42,335.85 589.78,336.00 591.13,336.14 592.48,336.30 593.83,336.45 595.19,336.61 596.54,336.78 597.90,336.95 599.26,337.13 600.62,337.31 601.98,337.49 603.34,337.68 604.70,337.87 606.06,338.07 607.43,338.28 608.79,338.50 610.14,338.73 611.49,338.98" fill="none" stroke="#000" stroke-width="1.9" stroke-linecap="butt" stroke-linejoin="round"/><polyline points="625.78,343.01 626.99,343.54 628.19,344.11 629.36,344.71 630.52,345.35 631.66,346.03 632.77,346.73 633.87,347.48 634.94,348.25 635.99,349.05 637.02,349.89 638.03,350.76 639.01,351.65 639.97,352.58 640.90,353.53 641.81,354.51 642.70,355.51 643.56,356.55 644.39,357.60 645.20,358.68 645.99,359.79 646.74,360.92 647.47,362.06 648.17,363.23 648.85,364.42 649.50,365.63 650.13,366.85 650.74,368.08 651.32,369.33 651.88,370.59 652.42,371.86 652.94,373.13 653.44,374.41 653.92,375.69 654.38,376.98 654.83,378.27 655.26,379.56 655.67,380.84" fill="none" stroke="#000" stroke-width="1.9" stroke-linecap="butt" stroke-linejoin="round"/><path d="M390.40,339.09 L382.62,344.64 Q383.32,340.86 383.80,340.74 Q383.32,340.86 380.92,337.85 Z" fill="#000" stroke="none"/><path d="M627.80,343.93 L618.52,343.18 Q621.38,340.89 621.84,341.10 Q621.38,340.89 621.35,337.22 Z" fill="#000" stroke="none" clip-path="url(#cr0)"/><polyline points="407.5,229 407.5,213.2 596.4,213.2 596.4,229" fill="none" stroke="#000" stroke-width="1.65"/><path d="M407.50,230.70 L404.30,222.20 Q407.50,223.80 407.50,224.30 Q407.50,223.80 410.70,222.20 Z" fill="#000" stroke="none"/><path d="M596.40,230.70 L593.20,222.20 Q596.40,223.80 596.40,224.30 Q596.40,223.80 599.60,222.20 Z" fill="#000" stroke="none"/><line x1="447" y1="366.7" x2="557" y2="366.7" stroke="#000" stroke-width="1.6"/><path d="M443.20,366.70 L451.40,363.50 Q449.80,366.70 449.30,366.70 Q449.80,366.70 451.40,369.90 Z" fill="#000" stroke="none"/><path d="M560.70,366.70 L552.50,369.90 Q554.10,366.70 554.60,366.70 Q554.10,366.70 552.50,363.50 Z" fill="#000" stroke="none"/></svg>
<svg width="1004" height="1417" viewBox="0 0 1004 1417"><line x1="177" y1="938.4" x2="822" y2="938.4" stroke="#000" stroke-width="1.8"/><path d="M826.80,938.40 L818.10,941.60 Q819.70,938.40 820.20,938.40 Q819.70,938.40 818.10,935.20 Z" fill="#000" stroke="none"/><line x1="501.8" y1="766" x2="501.8" y2="960" stroke="#000" stroke-width="1.8"/><path d="M501.80,761.20 L505.00,769.90 Q501.80,768.30 501.80,767.80 Q501.80,768.30 498.60,769.90 Z" fill="#000" stroke="none"/><line x1="483.32" y1="944.40" x2="483.32" y2="872.71" stroke="#000" stroke-width="1.7" stroke-dasharray="10.6 6.6"/><line x1="520.27" y1="944.40" x2="520.27" y2="872.71" stroke="#000" stroke-width="1.7" stroke-dasharray="10.6 6.6"/><line x1="464.85" y1="979.40" x2="464.85" y2="869.02" stroke="#000" stroke-width="1.7" stroke-dasharray="10.6 6.6"/><line x1="538.75" y1="979.40" x2="538.75" y2="869.02" stroke="#000" stroke-width="1.7" stroke-dasharray="10.6 6.6"/><line x1="427.90" y1="1015.10" x2="427.90" y2="868.00" stroke="#000" stroke-width="1.7" stroke-dasharray="10.6 6.6"/><line x1="575.70" y1="1015.10" x2="575.70" y2="868.00" stroke="#000" stroke-width="1.7" stroke-dasharray="10.6 6.6"/><polyline points="206.80,938.38 208.64,938.38 210.49,938.38 212.33,938.38 214.18,938.38 216.02,938.38 217.87,938.37 219.71,938.37 221.56,938.37 223.40,938.37 225.24,938.37 227.09,938.37 228.93,938.37 230.78,938.37 232.62,938.37 234.47,938.37 236.31,938.37 238.15,938.37 240.00,938.37 241.84,938.37 243.69,938.37 245.53,938.37 247.38,938.37 249.22,938.36 251.06,938.36 252.91,938.36 254.75,938.36 256.60,938.36 258.44,938.36 260.29,938.36 262.13,938.36 263.98,938.36 265.82,938.36 267.66,938.36 269.51,938.35 271.35,938.35 273.20,938.35 275.04,938.35 276.89,938.35 278.73,938.35 280.58,938.35 282.42,938.35 284.26,938.34 286.11,938.34 287.95,938.34 289.80,938.34 291.64,938.34 293.49,938.34 295.33,938.33 297.17,938.33 299.02,938.33 300.86,938.33 302.71,938.33 304.55,938.32 306.40,938.32 308.24,938.32 310.09,938.32 311.93,938.32 313.77,938.31 315.62,938.31 317.46,938.31 319.31,938.31 321.15,938.30 323.00,938.30 324.84,938.30 326.68,938.29 328.53,938.29 330.37,938.29 332.22,938.28 334.06,938.28 335.91,938.27 337.75,938.27 339.60,938.26 341.44,938.26 343.28,938.25 345.13,938.25 346.97,938.24 348.82,938.24 350.66,938.23 352.51,938.23 354.35,938.22 356.19,938.21 358.04,938.20 359.88,938.20 361.73,938.19 363.57,938.18 365.42,938.17 367.26,938.16 369.11,938.15 370.95,938.14 372.79,938.13 374.64,938.12 376.48,938.10 378.33,938.09 380.17,938.08 382.02,938.06 383.86,938.04 385.70,938.03 387.55,938.01 389.39,937.99 391.24,937.97 393.08,937.94 394.93,937.92 396.77,937.89 398.62,937.86 400.46,937.83 402.30,937.80 404.15,937.76 405.99,937.73 407.84,937.69 409.68,937.64 411.53,937.59 413.37,937.54 415.21,937.48 417.06,937.42 418.90,937.35 420.75,937.27 422.59,937.19 424.44,937.10 426.28,937.00 428.12,936.89 429.97,936.76 431.81,936.62 433.66,936.47 435.50,936.30 437.35,936.10 439.19,935.88 441.04,935.64 442.88,935.36 444.72,935.04 446.57,934.67 448.41,934.25 450.26,933.77 452.10,933.20 453.95,932.55 455.79,931.78 457.64,930.87 459.48,929.79 461.32,928.50 463.17,926.96 465.01,925.11 466.86,922.87 468.70,920.15 470.55,916.86 472.39,912.88 474.23,908.10 476.08,902.45 477.92,895.89 479.77,888.49 481.61,880.46 483.46,872.11 485.30,863.86 487.15,856.08 488.99,849.11 490.83,843.13 492.68,838.20 494.52,834.31 496.37,831.41 498.21,829.41 500.06,828.26 501.90,827.91 503.74,828.35 505.59,829.59 507.43,831.68 509.28,834.69 511.12,838.68 512.97,843.72 514.81,849.82 516.65,856.89 518.50,864.74 520.34,873.02 522.19,881.35 524.03,889.33 525.88,896.64 527.72,903.10 529.57,908.66 531.41,913.34 533.25,917.24 535.10,920.47 536.94,923.13 538.79,925.33 540.63,927.14 542.48,928.65 544.32,929.91 546.16,930.97 548.01,931.86 549.85,932.62 551.70,933.27 553.54,933.82 555.39,934.30 557.23,934.71 559.08,935.08 560.92,935.39 562.76,935.67 564.61,935.91 566.45,936.13 568.30,936.32 570.14,936.49 571.99,936.64 573.83,936.78 575.68,936.90 577.52,937.01 579.36,937.11 581.21,937.20 583.05,937.28 584.90,937.36 586.74,937.42 588.59,937.49 590.43,937.54 592.27,937.60 594.12,937.65 595.96,937.69 597.81,937.73 599.65,937.77 601.50,937.80 603.34,937.84 605.19,937.87 607.03,937.89 608.87,937.92 610.72,937.95 612.56,937.97 614.41,937.99 616.25,938.01 618.10,938.03 619.94,938.05 621.78,938.06 623.63,938.08 625.47,938.09 627.32,938.10 629.16,938.12 631.01,938.13 632.85,938.14 634.70,938.15 636.54,938.16 638.38,938.17 640.23,938.18 642.07,938.19 643.92,938.20 645.76,938.21 647.61,938.21 649.45,938.22 651.29,938.23 653.14,938.23 654.98,938.24 656.83,938.24 658.67,938.25 660.52,938.26 662.36,938.26 664.21,938.26 666.05,938.27 667.89,938.27 669.74,938.28 671.58,938.28 673.43,938.29 675.27,938.29 677.12,938.29 678.96,938.30 680.80,938.30 682.65,938.30 684.49,938.31 686.34,938.31 688.18,938.31 690.03,938.31 691.87,938.32 693.72,938.32 695.56,938.32 697.40,938.32 699.25,938.33 701.09,938.33 702.94,938.33 704.78,938.33 706.63,938.33 708.47,938.33 710.31,938.34 712.16,938.34 714.00,938.34 715.85,938.34 717.69,938.34 719.54,938.34 721.38,938.35 723.22,938.35 725.07,938.35 726.91,938.35 728.76,938.35 730.60,938.35 732.45,938.35 734.29,938.35 736.14,938.36 737.98,938.36 739.82,938.36 741.67,938.36 743.51,938.36 745.36,938.36 747.20,938.36 749.05,938.36 750.89,938.36 752.74,938.36 754.58,938.36 756.42,938.37 758.27,938.37 760.11,938.37 761.96,938.37 763.80,938.37 765.65,938.37 767.49,938.37 769.33,938.37 771.18,938.37 773.02,938.37 774.87,938.37 776.71,938.37 778.56,938.37 780.40,938.37 782.25,938.37 784.09,938.37 785.93,938.37 787.78,938.38 789.62,938.38 791.47,938.38 793.31,938.38 795.16,938.38 797.00,938.38" fill="none" stroke="#000" stroke-width="3.0" stroke-linejoin="round" stroke-linecap="butt"/><polyline points="206.80,938.35 208.64,938.35 210.49,938.35 212.33,938.35 214.18,938.35 216.02,938.35 217.87,938.35 219.71,938.35 221.56,938.35 223.40,938.35 225.24,938.34 227.09,938.34 228.93,938.34 230.78,938.34 232.62,938.34 234.47,938.34 236.31,938.34 238.15,938.34 240.00,938.33 241.84,938.33 243.69,938.33 245.53,938.33 247.38,938.33 249.22,938.33 251.06,938.32 252.91,938.32 254.75,938.32 256.60,938.32 258.44,938.32 260.29,938.32 262.13,938.31 263.98,938.31 265.82,938.31 267.66,938.31 269.51,938.30 271.35,938.30 273.20,938.30 275.04,938.30 276.89,938.29 278.73,938.29 280.58,938.29 282.42,938.29 284.26,938.28 286.11,938.28 287.95,938.28 289.80,938.27 291.64,938.27 293.49,938.27 295.33,938.26 297.17,938.26 299.02,938.25 300.86,938.25 302.71,938.25 304.55,938.24 306.40,938.24 308.24,938.23 310.09,938.23 311.93,938.22 313.77,938.22 315.62,938.21 317.46,938.20 319.31,938.20 321.15,938.19 323.00,938.18 324.84,938.18 326.68,938.17 328.53,938.16 330.37,938.15 332.22,938.15 334.06,938.14 335.91,938.13 337.75,938.12 339.60,938.11 341.44,938.10 343.28,938.08 345.13,938.07 346.97,938.06 348.82,938.05 350.66,938.03 352.51,938.02 354.35,938.00 356.19,937.99 358.04,937.97 359.88,937.95 361.73,937.93 363.57,937.91 365.42,937.89 367.26,937.86 369.11,937.84 370.95,937.81 372.79,937.78 374.64,937.75 376.48,937.72 378.33,937.69 380.17,937.65 382.02,937.61 383.86,937.57 385.70,937.53 387.55,937.48 389.39,937.42 391.24,937.37 393.08,937.31 394.93,937.24 396.77,937.17 398.62,937.09 400.46,937.01 402.30,936.92 404.15,936.81 405.99,936.70 407.84,936.58 409.68,936.45 411.53,936.30 413.37,936.14 415.21,935.96 417.06,935.76 418.90,935.53 420.75,935.28 422.59,935.00 424.44,934.68 426.28,934.32 428.12,933.91 429.97,933.44 431.81,932.90 433.66,932.28 435.50,931.55 437.35,930.71 439.19,929.72 441.04,928.56 442.88,927.18 444.72,925.53 446.57,923.56 448.41,921.19 450.26,918.32 452.10,914.87 453.95,910.70 455.79,905.72 457.64,899.83 459.48,893.01 461.32,885.32 463.17,876.96 465.01,868.25 466.86,859.58 468.70,851.33 470.55,843.81 472.39,837.19 474.23,831.51 476.08,826.74 477.92,822.78 479.77,819.51 481.61,816.84 483.46,814.65 485.30,812.87 487.15,811.42 488.99,810.24 490.83,809.30 492.68,808.55 494.52,807.97 496.37,807.54 498.21,807.24 500.06,807.07 501.90,807.02 503.74,807.09 505.59,807.27 507.43,807.58 509.28,808.02 511.12,808.62 512.97,809.39 514.81,810.36 516.65,811.56 518.50,813.04 520.34,814.87 522.19,817.10 524.03,819.84 525.88,823.17 527.72,827.22 529.57,832.08 531.41,837.86 533.25,844.59 535.10,852.20 536.94,860.51 538.79,869.20 540.63,877.89 542.48,886.19 544.32,893.80 546.16,900.52 548.01,906.30 549.85,911.19 551.70,915.27 553.54,918.66 555.39,921.47 557.23,923.79 559.08,925.73 560.92,927.34 562.76,928.70 564.61,929.84 566.45,930.81 568.30,931.64 570.14,932.35 571.99,932.96 573.83,933.49 575.68,933.95 577.52,934.36 579.36,934.72 581.21,935.03 583.05,935.31 584.90,935.56 586.74,935.78 588.59,935.98 590.43,936.16 592.27,936.32 594.12,936.46 595.96,936.60 597.81,936.72 599.65,936.83 601.50,936.93 603.34,937.02 605.19,937.10 607.03,937.18 608.87,937.25 610.72,937.31 612.56,937.37 614.41,937.43 616.25,937.48 618.10,937.53 619.94,937.58 621.78,937.62 623.63,937.66 625.47,937.69 627.32,937.73 629.16,937.76 631.01,937.79 632.85,937.82 634.70,937.84 636.54,937.87 638.38,937.89 640.23,937.91 642.07,937.93 643.92,937.95 645.76,937.97 647.61,937.99 649.45,938.00 651.29,938.02 653.14,938.03 654.98,938.05 656.83,938.06 658.67,938.07 660.52,938.09 662.36,938.10 664.21,938.11 666.05,938.12 667.89,938.13 669.74,938.14 671.58,938.15 673.43,938.15 675.27,938.16 677.12,938.17 678.96,938.18 680.80,938.19 682.65,938.19 684.49,938.20 686.34,938.20 688.18,938.21 690.03,938.22 691.87,938.22 693.72,938.23 695.56,938.23 697.40,938.24 699.25,938.24 701.09,938.25 702.94,938.25 704.78,938.26 706.63,938.26 708.47,938.26 710.31,938.27 712.16,938.27 714.00,938.27 715.85,938.28 717.69,938.28 719.54,938.28 721.38,938.29 723.22,938.29 725.07,938.29 726.91,938.29 728.76,938.30 730.60,938.30 732.45,938.30 734.29,938.30 736.14,938.31 737.98,938.31 739.82,938.31 741.67,938.31 743.51,938.32 745.36,938.32 747.20,938.32 749.05,938.32 750.89,938.32 752.74,938.32 754.58,938.33 756.42,938.33 758.27,938.33 760.11,938.33 761.96,938.33 763.80,938.33 765.65,938.34 767.49,938.34 769.33,938.34 771.18,938.34 773.02,938.34 774.87,938.34 776.71,938.34 778.56,938.34 780.40,938.35 782.25,938.35 784.09,938.35 785.93,938.35 787.78,938.35 789.62,938.35 791.47,938.35 793.31,938.35 795.16,938.35 797.00,938.35" fill="none" stroke="#000" stroke-width="3.0" stroke-linejoin="round" stroke-linecap="butt"/><polyline points="206.80,938.30 208.64,938.30 210.49,938.29 212.33,938.29 214.18,938.29 216.02,938.29 217.87,938.29 219.71,938.28 221.56,938.28 223.40,938.28 225.24,938.28 227.09,938.27 228.93,938.27 230.78,938.27 232.62,938.26 234.47,938.26 236.31,938.26 238.15,938.25 240.00,938.25 241.84,938.25 243.69,938.24 245.53,938.24 247.38,938.24 249.22,938.23 251.06,938.23 252.91,938.22 254.75,938.22 256.60,938.21 258.44,938.21 260.29,938.20 262.13,938.20 263.98,938.19 265.82,938.19 267.66,938.18 269.51,938.18 271.35,938.17 273.20,938.16 275.04,938.16 276.89,938.15 278.73,938.14 280.58,938.14 282.42,938.13 284.26,938.12 286.11,938.11 287.95,938.10 289.80,938.09 291.64,938.08 293.49,938.07 295.33,938.06 297.17,938.05 299.02,938.04 300.86,938.03 302.71,938.02 304.55,938.00 306.40,937.99 308.24,937.97 310.09,937.96 311.93,937.94 313.77,937.93 315.62,937.91 317.46,937.89 319.31,937.87 321.15,937.85 323.00,937.83 324.84,937.81 326.68,937.78 328.53,937.76 330.37,937.73 332.22,937.70 334.06,937.67 335.91,937.64 337.75,937.60 339.60,937.57 341.44,937.53 343.28,937.49 345.13,937.44 346.97,937.40 348.82,937.35 350.66,937.29 352.51,937.23 354.35,937.17 356.19,937.10 358.04,937.03 359.88,936.95 361.73,936.87 363.57,936.77 365.42,936.67 367.26,936.56 369.11,936.45 370.95,936.32 372.79,936.17 374.64,936.01 376.48,935.84 378.33,935.65 380.17,935.44 382.02,935.20 383.86,934.93 385.70,934.64 387.55,934.30 389.39,933.92 391.24,933.49 393.08,933.01 394.93,932.45 396.77,931.80 398.62,931.06 400.46,930.19 402.30,929.17 404.15,927.98 405.99,926.57 407.84,924.88 409.68,922.87 411.53,920.45 413.37,917.54 415.21,914.03 417.06,909.80 418.90,904.75 420.75,898.79 422.59,891.89 424.44,884.13 426.28,875.70 428.12,866.93 429.97,858.20 431.81,849.91 433.66,842.35 435.50,835.68 437.35,829.95 439.19,825.11 441.04,821.07 442.88,817.72 444.72,814.94 446.57,812.64 448.41,810.72 450.26,809.12 452.10,807.77 453.95,806.63 455.79,805.67 457.64,804.84 459.48,804.14 461.32,803.53 463.17,803.00 465.01,802.54 466.86,802.14 468.70,801.80 470.55,801.49 472.39,801.22 474.23,800.99 476.08,800.78 477.92,800.59 479.77,800.43 481.61,800.29 483.46,800.17 485.30,800.06 487.15,799.97 488.99,799.89 490.83,799.82 492.68,799.77 494.52,799.72 496.37,799.69 498.21,799.67 500.06,799.65 501.90,799.65 503.74,799.65 505.59,799.67 507.43,799.69 509.28,799.73 511.12,799.77 512.97,799.83 514.81,799.90 516.65,799.98 518.50,800.07 520.34,800.18 522.19,800.31 524.03,800.45 525.88,800.61 527.72,800.80 529.57,801.01 531.41,801.25 533.25,801.52 535.10,801.83 536.94,802.18 538.79,802.59 540.63,803.05 542.48,803.59 544.32,804.21 546.16,804.93 548.01,805.76 549.85,806.75 551.70,807.90 553.54,809.28 555.39,810.91 557.23,812.87 559.08,815.22 560.92,818.05 562.76,821.48 564.61,825.59 566.45,830.52 568.30,836.36 570.14,843.13 571.99,850.78 573.83,859.13 575.68,867.88 577.52,876.64 579.36,885.01 581.21,892.68 583.05,899.48 584.90,905.34 586.74,910.30 588.59,914.44 590.43,917.88 592.27,920.74 594.12,923.11 595.96,925.08 597.81,926.73 599.65,928.12 601.50,929.29 603.34,930.29 605.19,931.14 607.03,931.88 608.87,932.51 610.72,933.06 612.56,933.54 614.41,933.97 616.25,934.34 618.10,934.67 619.94,934.96 621.78,935.22 623.63,935.46 625.47,935.67 627.32,935.86 629.16,936.03 631.01,936.19 632.85,936.33 634.70,936.46 636.54,936.58 638.38,936.69 640.23,936.78 642.07,936.88 643.92,936.96 645.76,937.04 647.61,937.11 649.45,937.18 651.29,937.24 653.14,937.30 654.98,937.35 656.83,937.40 658.67,937.45 660.52,937.49 662.36,937.53 664.21,937.57 666.05,937.61 667.89,937.64 669.74,937.67 671.58,937.70 673.43,937.73 675.27,937.76 677.12,937.78 678.96,937.81 680.80,937.83 682.65,937.85 684.49,937.87 686.34,937.89 688.18,937.91 690.03,937.93 691.87,937.94 693.72,937.96 695.56,937.98 697.40,937.99 699.25,938.00 701.09,938.02 702.94,938.03 704.78,938.04 706.63,938.05 708.47,938.06 710.31,938.07 712.16,938.08 714.00,938.09 715.85,938.10 717.69,938.11 719.54,938.12 721.38,938.13 723.22,938.14 725.07,938.14 726.91,938.15 728.76,938.16 730.60,938.16 732.45,938.17 734.29,938.18 736.14,938.18 737.98,938.19 739.82,938.19 741.67,938.20 743.51,938.20 745.36,938.21 747.20,938.21 749.05,938.22 750.89,938.22 752.74,938.23 754.58,938.23 756.42,938.24 758.27,938.24 760.11,938.24 761.96,938.25 763.80,938.25 765.65,938.25 767.49,938.26 769.33,938.26 771.18,938.26 773.02,938.27 774.87,938.27 776.71,938.27 778.56,938.28 780.40,938.28 782.25,938.28 784.09,938.28 785.93,938.29 787.78,938.29 789.62,938.29 791.47,938.29 793.31,938.30 795.16,938.30 797.00,938.30" fill="none" stroke="#000" stroke-width="3.0" stroke-linejoin="round" stroke-linecap="butt"/><polyline points="206.80,938.09 208.64,938.08 210.49,938.07 212.33,938.06 214.18,938.05 216.02,938.04 217.87,938.03 219.71,938.02 221.56,938.01 223.40,937.99 225.24,937.98 227.09,937.97 228.93,937.95 230.78,937.94 232.62,937.93 234.47,937.91 236.31,937.89 238.15,937.88 240.00,937.86 241.84,937.84 243.69,937.82 245.53,937.80 247.38,937.78 249.22,937.75 251.06,937.73 252.91,937.70 254.75,937.68 256.60,937.65 258.44,937.62 260.29,937.59 262.13,937.55 263.98,937.52 265.82,937.48 267.66,937.44 269.51,937.40 271.35,937.35 273.20,937.30 275.04,937.25 276.89,937.19 278.73,937.13 280.58,937.07 282.42,937.00 284.26,936.92 286.11,936.84 287.95,936.75 289.80,936.66 291.64,936.55 293.49,936.44 295.33,936.32 297.17,936.18 299.02,936.04 300.86,935.88 302.71,935.70 304.55,935.50 306.40,935.28 308.24,935.04 310.09,934.77 311.93,934.47 313.77,934.13 315.62,933.74 317.46,933.31 319.31,932.81 321.15,932.24 323.00,931.59 324.84,930.83 326.68,929.95 328.53,928.92 330.37,927.71 332.22,926.27 334.06,924.56 335.91,922.52 337.75,920.07 339.60,917.11 341.44,913.55 343.28,909.26 345.13,904.15 346.97,898.11 348.82,891.15 350.66,883.33 352.51,874.85 354.35,866.06 356.19,857.35 358.04,849.09 359.88,841.58 361.73,834.96 363.57,829.29 365.42,824.50 367.26,820.50 369.11,817.18 370.95,814.43 372.79,812.14 374.64,810.23 376.48,808.63 378.33,807.29 380.17,806.15 382.02,805.18 383.86,804.35 385.70,803.64 387.55,803.02 389.39,802.48 391.24,802.01 393.08,801.59 394.93,801.23 396.77,800.90 398.62,800.61 400.46,800.35 402.30,800.12 404.15,799.91 405.99,799.73 407.84,799.56 409.68,799.40 411.53,799.26 413.37,799.13 415.21,799.02 417.06,798.91 418.90,798.81 420.75,798.72 422.59,798.64 424.44,798.56 426.28,798.49 428.12,798.42 429.97,798.36 431.81,798.31 433.66,798.25 435.50,798.20 437.35,798.16 439.19,798.12 441.04,798.08 442.88,798.04 444.72,798.00 446.57,797.97 448.41,797.94 450.26,797.91 452.10,797.89 453.95,797.86 455.79,797.84 457.64,797.82 459.48,797.80 461.32,797.78 463.17,797.76 465.01,797.74 466.86,797.73 468.70,797.72 470.55,797.70 472.39,797.69 474.23,797.68 476.08,797.67 477.92,797.66 479.77,797.65 481.61,797.64 483.46,797.63 485.30,797.63 487.15,797.62 488.99,797.62 490.83,797.61 492.68,797.61 494.52,797.61 496.37,797.61 498.21,797.60 500.06,797.60 501.90,797.60 503.74,797.60 505.59,797.60 507.43,797.61 509.28,797.61 511.12,797.61 512.97,797.61 514.81,797.62 516.65,797.62 518.50,797.63 520.34,797.64 522.19,797.64 524.03,797.65 525.88,797.66 527.72,797.67 529.57,797.68 531.41,797.69 533.25,797.70 535.10,797.72 536.94,797.73 538.79,797.75 540.63,797.76 542.48,797.78 544.32,797.80 546.16,797.82 548.01,797.84 549.85,797.86 551.70,797.89 553.54,797.92 555.39,797.94 557.23,797.98 559.08,798.01 560.92,798.04 562.76,798.08 564.61,798.12 566.45,798.16 568.30,798.21 570.14,798.26 571.99,798.31 573.83,798.37 575.68,798.43 577.52,798.50 579.36,798.57 581.21,798.65 583.05,798.73 584.90,798.82 586.74,798.92 588.59,799.03 590.43,799.15 592.27,799.28 594.12,799.42 595.96,799.57 597.81,799.75 599.65,799.94 601.50,800.15 603.34,800.38 605.19,800.64 607.03,800.93 608.87,801.26 610.72,801.63 612.56,802.05 614.41,802.53 616.25,803.08 618.10,803.71 619.94,804.44 621.78,805.28 623.63,806.27 625.47,807.42 627.32,808.79 629.16,810.42 631.01,812.37 632.85,814.70 634.70,817.51 636.54,820.90 638.38,824.98 640.23,829.86 642.07,835.63 643.92,842.35 645.76,849.96 647.61,858.28 649.45,867.02 651.29,875.80 653.14,884.21 654.98,891.95 656.83,898.81 658.67,904.74 660.52,909.77 662.36,913.97 664.21,917.46 666.05,920.36 667.89,922.76 669.74,924.76 671.58,926.44 673.43,927.85 675.27,929.04 677.12,930.05 678.96,930.92 680.80,931.66 682.65,932.31 684.49,932.87 686.34,933.36 688.18,933.79 690.03,934.17 691.87,934.50 693.72,934.80 695.56,935.07 697.40,935.31 699.25,935.52 701.09,935.72 702.94,935.89 704.78,936.05 706.63,936.20 708.47,936.33 710.31,936.45 712.16,936.56 714.00,936.67 715.85,936.76 717.69,936.85 719.54,936.93 721.38,937.00 723.22,937.07 725.07,937.14 726.91,937.20 728.76,937.25 730.60,937.31 732.45,937.35 734.29,937.40 736.14,937.44 737.98,937.48 739.82,937.52 741.67,937.56 743.51,937.59 745.36,937.62 747.20,937.65 749.05,937.68 750.89,937.71 752.74,937.73 754.58,937.76 756.42,937.78 758.27,937.80 760.11,937.82 761.96,937.84 763.80,937.86 765.65,937.88 767.49,937.90 769.33,937.91 771.18,937.93 773.02,937.94 774.87,937.96 776.71,937.97 778.56,937.98 780.40,938.00 782.25,938.01 784.09,938.02 785.93,938.03 787.78,938.04 789.62,938.05 791.47,938.06 793.31,938.07 795.16,938.08 797.00,938.09" fill="none" stroke="#000" stroke-width="3.0" stroke-linejoin="round" stroke-linecap="butt"/><circle cx="501.8" cy="798.9" r="2.6" fill="#fff" stroke="#000" stroke-width="1.3"/><ellipse cx="483.32" cy="962.1" rx="4.9" ry="13.95" fill="#fff" stroke="#000" stroke-width="1.9"/><ellipse cx="487.43" cy="962.1" rx="4.9" ry="13.95" fill="#fff" stroke="#000" stroke-width="1.9"/><ellipse cx="491.54" cy="962.1" rx="4.9" ry="13.95" fill="#fff" stroke="#000" stroke-width="1.9"/><ellipse cx="495.64" cy="962.1" rx="4.9" ry="13.95" fill="#fff" stroke="#000" stroke-width="1.9"/><ellipse cx="499.75" cy="962.1" rx="4.9" ry="13.95" fill="#fff" stroke="#000" stroke-width="1.9"/><ellipse cx="503.85" cy="962.1" rx="4.9" ry="13.95" fill="#fff" stroke="#000" stroke-width="1.9"/><ellipse cx="507.96" cy="962.1" rx="4.9" ry="13.95" fill="#fff" stroke="#000" stroke-width="1.9"/><ellipse cx="512.06" cy="962.1" rx="4.9" ry="13.95" fill="#fff" stroke="#000" stroke-width="1.9"/><ellipse cx="516.17" cy="962.1" rx="4.9" ry="13.95" fill="#fff" stroke="#000" stroke-width="1.9"/><ellipse cx="520.27" cy="962.1" rx="4.9" ry="13.95" fill="#fff" stroke="#000" stroke-width="1.9"/><line x1="522.27" y1="962.1" x2="673" y2="962.1" stroke="#fff" stroke-width="7"/><line x1="520.27" y1="962.1" x2="673" y2="962.1" stroke="#000" stroke-width="1.7"/><path d="M679.10,962.10 L670.40,965.30 Q672.00,962.10 672.50,962.10 Q672.00,962.10 670.40,958.90 Z" fill="#000" stroke="none"/><ellipse cx="464.85" cy="997.1" rx="4.9" ry="13.95" fill="#fff" stroke="#000" stroke-width="1.9"/><ellipse cx="468.96" cy="997.1" rx="4.9" ry="13.95" fill="#fff" stroke="#000" stroke-width="1.9"/><ellipse cx="473.06" cy="997.1" rx="4.9" ry="13.95" fill="#fff" stroke="#000" stroke-width="1.9"/><ellipse cx="477.17" cy="997.1" rx="4.9" ry="13.95" fill="#fff" stroke="#000" stroke-width="1.9"/><ellipse cx="481.27" cy="997.1" rx="4.9" ry="13.95" fill="#fff" stroke="#000" stroke-width="1.9"/><ellipse cx="485.38" cy="997.1" rx="4.9" ry="13.95" fill="#fff" stroke="#000" stroke-width="1.9"/><ellipse cx="489.48" cy="997.1" rx="4.9" ry="13.95" fill="#fff" stroke="#000" stroke-width="1.9"/><ellipse cx="493.59" cy="997.1" rx="4.9" ry="13.95" fill="#fff" stroke="#000" stroke-width="1.9"/><ellipse cx="497.69" cy="997.1" rx="4.9" ry="13.95" fill="#fff" stroke="#000" stroke-width="1.9"/><ellipse cx="501.80" cy="997.1" rx="4.9" ry="13.95" fill="#fff" stroke="#000" stroke-width="1.9"/><ellipse cx="505.91" cy="997.1" rx="4.9" ry="13.95" fill="#fff" stroke="#000" stroke-width="1.9"/><ellipse cx="510.01" cy="997.1" rx="4.9" ry="13.95" fill="#fff" stroke="#000" stroke-width="1.9"/><ellipse cx="514.12" cy="997.1" rx="4.9" ry="13.95" fill="#fff" stroke="#000" stroke-width="1.9"/><ellipse cx="518.22" cy="997.1" rx="4.9" ry="13.95" fill="#fff" stroke="#000" stroke-width="1.9"/><ellipse cx="522.33" cy="997.1" rx="4.9" ry="13.95" fill="#fff" stroke="#000" stroke-width="1.9"/><ellipse cx="526.43" cy="997.1" rx="4.9" ry="13.95" fill="#fff" stroke="#000" stroke-width="1.9"/><ellipse cx="530.54" cy="997.1" rx="4.9" ry="13.95" fill="#fff" stroke="#000" stroke-width="1.9"/><ellipse cx="534.64" cy="997.1" rx="4.9" ry="13.95" fill="#fff" stroke="#000" stroke-width="1.9"/><ellipse cx="538.75" cy="997.1" rx="4.9" ry="13.95" fill="#fff" stroke="#000" stroke-width="1.9"/><line x1="540.75" y1="997.1" x2="673" y2="997.1" stroke="#fff" stroke-width="7"/><line x1="538.75" y1="997.1" x2="673" y2="997.1" stroke="#000" stroke-width="1.7"/><path d="M679.10,997.10 L670.40,1000.30 Q672.00,997.10 672.50,997.10 Q672.00,997.10 670.40,993.90 Z" fill="#000" stroke="none"/><ellipse cx="427.90" cy="1032.8" rx="4.9" ry="13.95" fill="#fff" stroke="#000" stroke-width="1.9"/><ellipse cx="431.89" cy="1032.8" rx="4.9" ry="13.95" fill="#fff" stroke="#000" stroke-width="1.9"/><ellipse cx="435.89" cy="1032.8" rx="4.9" ry="13.95" fill="#fff" stroke="#000" stroke-width="1.9"/><ellipse cx="439.88" cy="1032.8" rx="4.9" ry="13.95" fill="#fff" stroke="#000" stroke-width="1.9"/><ellipse cx="443.88" cy="1032.8" rx="4.9" ry="13.95" fill="#fff" stroke="#000" stroke-width="1.9"/><ellipse cx="447.87" cy="1032.8" rx="4.9" ry="13.95" fill="#fff" stroke="#000" stroke-width="1.9"/><ellipse cx="451.87" cy="1032.8" rx="4.9" ry="13.95" fill="#fff" stroke="#000" stroke-width="1.9"/><ellipse cx="455.86" cy="1032.8" rx="4.9" ry="13.95" fill="#fff" stroke="#000" stroke-width="1.9"/><ellipse cx="459.86" cy="1032.8" rx="4.9" ry="13.95" fill="#fff" stroke="#000" stroke-width="1.9"/><ellipse cx="463.85" cy="1032.8" rx="4.9" ry="13.95" fill="#fff" stroke="#000" stroke-width="1.9"/><ellipse cx="467.85" cy="1032.8" rx="4.9" ry="13.95" fill="#fff" stroke="#000" stroke-width="1.9"/><ellipse cx="471.84" cy="1032.8" rx="4.9" ry="13.95" fill="#fff" stroke="#000" stroke-width="1.9"/><ellipse cx="475.84" cy="1032.8" rx="4.9" ry="13.95" fill="#fff" stroke="#000" stroke-width="1.9"/><ellipse cx="479.83" cy="1032.8" rx="4.9" ry="13.95" fill="#fff" stroke="#000" stroke-width="1.9"/><ellipse cx="483.82" cy="1032.8" rx="4.9" ry="13.95" fill="#fff" stroke="#000" stroke-width="1.9"/><ellipse cx="487.82" cy="1032.8" rx="4.9" ry="13.95" fill="#fff" stroke="#000" stroke-width="1.9"/><ellipse cx="491.81" cy="1032.8" rx="4.9" ry="13.95" fill="#fff" stroke="#000" stroke-width="1.9"/><ellipse cx="495.81" cy="1032.8" rx="4.9" ry="13.95" fill="#fff" stroke="#000" stroke-width="1.9"/><ellipse cx="499.80" cy="1032.8" rx="4.9" ry="13.95" fill="#fff" stroke="#000" stroke-width="1.9"/><ellipse cx="503.80" cy="1032.8" rx="4.9" ry="13.95" fill="#fff" stroke="#000" stroke-width="1.9"/><ellipse cx="507.79" cy="1032.8" rx="4.9" ry="13.95" fill="#fff" stroke="#000" stroke-width="1.9"/><ellipse cx="511.79" cy="1032.8" rx="4.9" ry="13.95" fill="#fff" stroke="#000" stroke-width="1.9"/><ellipse cx="515.78" cy="1032.8" rx="4.9" ry="13.95" fill="#fff" stroke="#000" stroke-width="1.9"/><ellipse cx="519.78" cy="1032.8" rx="4.9" ry="13.95" fill="#fff" stroke="#000" stroke-width="1.9"/><ellipse cx="523.77" cy="1032.8" rx="4.9" ry="13.95" fill="#fff" stroke="#000" stroke-width="1.9"/><ellipse cx="527.76" cy="1032.8" rx="4.9" ry="13.95" fill="#fff" stroke="#000" stroke-width="1.9"/><ellipse cx="531.76" cy="1032.8" rx="4.9" ry="13.95" fill="#fff" stroke="#000" stroke-width="1.9"/><ellipse cx="535.75" cy="1032.8" rx="4.9" ry="13.95" fill="#fff" stroke="#000" stroke-width="1.9"/><ellipse cx="539.75" cy="1032.8" rx="4.9" ry="13.95" fill="#fff" stroke="#000" stroke-width="1.9"/><ellipse cx="543.74" cy="1032.8" rx="4.9" ry="13.95" fill="#fff" stroke="#000" stroke-width="1.9"/><ellipse cx="547.74" cy="1032.8" rx="4.9" ry="13.95" fill="#fff" stroke="#000" stroke-width="1.9"/><ellipse cx="551.73" cy="1032.8" rx="4.9" ry="13.95" fill="#fff" stroke="#000" stroke-width="1.9"/><ellipse cx="555.73" cy="1032.8" rx="4.9" ry="13.95" fill="#fff" stroke="#000" stroke-width="1.9"/><ellipse cx="559.72" cy="1032.8" rx="4.9" ry="13.95" fill="#fff" stroke="#000" stroke-width="1.9"/><ellipse cx="563.72" cy="1032.8" rx="4.9" ry="13.95" fill="#fff" stroke="#000" stroke-width="1.9"/><ellipse cx="567.71" cy="1032.8" rx="4.9" ry="13.95" fill="#fff" stroke="#000" stroke-width="1.9"/><ellipse cx="571.71" cy="1032.8" rx="4.9" ry="13.95" fill="#fff" stroke="#000" stroke-width="1.9"/><ellipse cx="575.70" cy="1032.8" rx="4.9" ry="13.95" fill="#fff" stroke="#000" stroke-width="1.9"/><line x1="577.70" y1="1032.8" x2="673" y2="1032.8" stroke="#fff" stroke-width="7"/><line x1="575.70" y1="1032.8" x2="673" y2="1032.8" stroke="#000" stroke-width="1.7"/><path d="M679.10,1032.80 L670.40,1036.00 Q672.00,1032.80 672.50,1032.80 Q672.00,1032.80 670.40,1029.60 Z" fill="#000" stroke="none"/><ellipse cx="354.00" cy="1068.1" rx="4.9" ry="13.95" fill="#fff" stroke="#000" stroke-width="1.9"/><ellipse cx="357.99" cy="1068.1" rx="4.9" ry="13.95" fill="#fff" stroke="#000" stroke-width="1.9"/><ellipse cx="361.99" cy="1068.1" rx="4.9" ry="13.95" fill="#fff" stroke="#000" stroke-width="1.9"/><ellipse cx="365.98" cy="1068.1" rx="4.9" ry="13.95" fill="#fff" stroke="#000" stroke-width="1.9"/><ellipse cx="369.98" cy="1068.1" rx="4.9" ry="13.95" fill="#fff" stroke="#000" stroke-width="1.9"/><ellipse cx="373.97" cy="1068.1" rx="4.9" ry="13.95" fill="#fff" stroke="#000" stroke-width="1.9"/><ellipse cx="377.97" cy="1068.1" rx="4.9" ry="13.95" fill="#fff" stroke="#000" stroke-width="1.9"/><ellipse cx="381.96" cy="1068.1" rx="4.9" ry="13.95" fill="#fff" stroke="#000" stroke-width="1.9"/><ellipse cx="385.96" cy="1068.1" rx="4.9" ry="13.95" fill="#fff" stroke="#000" stroke-width="1.9"/><ellipse cx="389.95" cy="1068.1" rx="4.9" ry="13.95" fill="#fff" stroke="#000" stroke-width="1.9"/><ellipse cx="393.95" cy="1068.1" rx="4.9" ry="13.95" fill="#fff" stroke="#000" stroke-width="1.9"/><ellipse cx="397.94" cy="1068.1" rx="4.9" ry="13.95" fill="#fff" stroke="#000" stroke-width="1.9"/><ellipse cx="401.94" cy="1068.1" rx="4.9" ry="13.95" fill="#fff" stroke="#000" stroke-width="1.9"/><ellipse cx="405.93" cy="1068.1" rx="4.9" ry="13.95" fill="#fff" stroke="#000" stroke-width="1.9"/><ellipse cx="409.92" cy="1068.1" rx="4.9" ry="13.95" fill="#fff" stroke="#000" stroke-width="1.9"/><ellipse cx="413.92" cy="1068.1" rx="4.9" ry="13.95" fill="#fff" stroke="#000" stroke-width="1.9"/><ellipse cx="417.91" cy="1068.1" rx="4.9" ry="13.95" fill="#fff" stroke="#000" stroke-width="1.9"/><ellipse cx="421.91" cy="1068.1" rx="4.9" ry="13.95" fill="#fff" stroke="#000" stroke-width="1.9"/><ellipse cx="425.90" cy="1068.1" rx="4.9" ry="13.95" fill="#fff" stroke="#000" stroke-width="1.9"/><ellipse cx="429.90" cy="1068.1" rx="4.9" ry="13.95" fill="#fff" stroke="#000" stroke-width="1.9"/><ellipse cx="433.89" cy="1068.1" rx="4.9" ry="13.95" fill="#fff" stroke="#000" stroke-width="1.9"/><ellipse cx="437.89" cy="1068.1" rx="4.9" ry="13.95" fill="#fff" stroke="#000" stroke-width="1.9"/><ellipse cx="441.88" cy="1068.1" rx="4.9" ry="13.95" fill="#fff" stroke="#000" stroke-width="1.9"/><ellipse cx="445.88" cy="1068.1" rx="4.9" ry="13.95" fill="#fff" stroke="#000" stroke-width="1.9"/><ellipse cx="449.87" cy="1068.1" rx="4.9" ry="13.95" fill="#fff" stroke="#000" stroke-width="1.9"/><ellipse cx="453.86" cy="1068.1" rx="4.9" ry="13.95" fill="#fff" stroke="#000" stroke-width="1.9"/><ellipse cx="457.86" cy="1068.1" rx="4.9" ry="13.95" fill="#fff" stroke="#000" stroke-width="1.9"/><ellipse cx="461.85" cy="1068.1" rx="4.9" ry="13.95" fill="#fff" stroke="#000" stroke-width="1.9"/><ellipse cx="465.85" cy="1068.1" rx="4.9" ry="13.95" fill="#fff" stroke="#000" stroke-width="1.9"/><ellipse cx="469.84" cy="1068.1" rx="4.9" ry="13.95" fill="#fff" stroke="#000" stroke-width="1.9"/><ellipse cx="473.84" cy="1068.1" rx="4.9" ry="13.95" fill="#fff" stroke="#000" stroke-width="1.9"/><ellipse cx="477.83" cy="1068.1" rx="4.9" ry="13.95" fill="#fff" stroke="#000" stroke-width="1.9"/><ellipse cx="481.83" cy="1068.1" rx="4.9" ry="13.95" fill="#fff" stroke="#000" stroke-width="1.9"/><ellipse cx="485.82" cy="1068.1" rx="4.9" ry="13.95" fill="#fff" stroke="#000" stroke-width="1.9"/><ellipse cx="489.82" cy="1068.1" rx="4.9" ry="13.95" fill="#fff" stroke="#000" stroke-width="1.9"/><ellipse cx="493.81" cy="1068.1" rx="4.9" ry="13.95" fill="#fff" stroke="#000" stroke-width="1.9"/><ellipse cx="497.81" cy="1068.1" rx="4.9" ry="13.95" fill="#fff" stroke="#000" stroke-width="1.9"/><ellipse cx="501.80" cy="1068.1" rx="4.9" ry="13.95" fill="#fff" stroke="#000" stroke-width="1.9"/><ellipse cx="505.79" cy="1068.1" rx="4.9" ry="13.95" fill="#fff" stroke="#000" stroke-width="1.9"/><ellipse cx="509.79" cy="1068.1" rx="4.9" ry="13.95" fill="#fff" stroke="#000" stroke-width="1.9"/><ellipse cx="513.78" cy="1068.1" rx="4.9" ry="13.95" fill="#fff" stroke="#000" stroke-width="1.9"/><ellipse cx="517.78" cy="1068.1" rx="4.9" ry="13.95" fill="#fff" stroke="#000" stroke-width="1.9"/><ellipse cx="521.77" cy="1068.1" rx="4.9" ry="13.95" fill="#fff" stroke="#000" stroke-width="1.9"/><ellipse cx="525.77" cy="1068.1" rx="4.9" ry="13.95" fill="#fff" stroke="#000" stroke-width="1.9"/><ellipse cx="529.76" cy="1068.1" rx="4.9" ry="13.95" fill="#fff" stroke="#000" stroke-width="1.9"/><ellipse cx="533.76" cy="1068.1" rx="4.9" ry="13.95" fill="#fff" stroke="#000" stroke-width="1.9"/><ellipse cx="537.75" cy="1068.1" rx="4.9" ry="13.95" fill="#fff" stroke="#000" stroke-width="1.9"/><ellipse cx="541.75" cy="1068.1" rx="4.9" ry="13.95" fill="#fff" stroke="#000" stroke-width="1.9"/><ellipse cx="545.74" cy="1068.1" rx="4.9" ry="13.95" fill="#fff" stroke="#000" stroke-width="1.9"/><ellipse cx="549.74" cy="1068.1" rx="4.9" ry="13.95" fill="#fff" stroke="#000" stroke-width="1.9"/><ellipse cx="553.73" cy="1068.1" rx="4.9" ry="13.95" fill="#fff" stroke="#000" stroke-width="1.9"/><ellipse cx="557.72" cy="1068.1" rx="4.9" ry="13.95" fill="#fff" stroke="#000" stroke-width="1.9"/><ellipse cx="561.72" cy="1068.1" rx="4.9" ry="13.95" fill="#fff" stroke="#000" stroke-width="1.9"/><ellipse cx="565.71" cy="1068.1" rx="4.9" ry="13.95" fill="#fff" stroke="#000" stroke-width="1.9"/><ellipse cx="569.71" cy="1068.1" rx="4.9" ry="13.95" fill="#fff" stroke="#000" stroke-width="1.9"/><ellipse cx="573.70" cy="1068.1" rx="4.9" ry="13.95" fill="#fff" stroke="#000" stroke-width="1.9"/><ellipse cx="577.70" cy="1068.1" rx="4.9" ry="13.95" fill="#fff" stroke="#000" stroke-width="1.9"/><ellipse cx="581.69" cy="1068.1" rx="4.9" ry="13.95" fill="#fff" stroke="#000" stroke-width="1.9"/><ellipse cx="585.69" cy="1068.1" rx="4.9" ry="13.95" fill="#fff" stroke="#000" stroke-width="1.9"/><ellipse cx="589.68" cy="1068.1" rx="4.9" ry="13.95" fill="#fff" stroke="#000" stroke-width="1.9"/><ellipse cx="593.68" cy="1068.1" rx="4.9" ry="13.95" fill="#fff" stroke="#000" stroke-width="1.9"/><ellipse cx="597.67" cy="1068.1" rx="4.9" ry="13.95" fill="#fff" stroke="#000" stroke-width="1.9"/><ellipse cx="601.66" cy="1068.1" rx="4.9" ry="13.95" fill="#fff" stroke="#000" stroke-width="1.9"/><ellipse cx="605.66" cy="1068.1" rx="4.9" ry="13.95" fill="#fff" stroke="#000" stroke-width="1.9"/><ellipse cx="609.65" cy="1068.1" rx="4.9" ry="13.95" fill="#fff" stroke="#000" stroke-width="1.9"/><ellipse cx="613.65" cy="1068.1" rx="4.9" ry="13.95" fill="#fff" stroke="#000" stroke-width="1.9"/><ellipse cx="617.64" cy="1068.1" rx="4.9" ry="13.95" fill="#fff" stroke="#000" stroke-width="1.9"/><ellipse cx="621.64" cy="1068.1" rx="4.9" ry="13.95" fill="#fff" stroke="#000" stroke-width="1.9"/><ellipse cx="625.63" cy="1068.1" rx="4.9" ry="13.95" fill="#fff" stroke="#000" stroke-width="1.9"/><ellipse cx="629.63" cy="1068.1" rx="4.9" ry="13.95" fill="#fff" stroke="#000" stroke-width="1.9"/><ellipse cx="633.62" cy="1068.1" rx="4.9" ry="13.95" fill="#fff" stroke="#000" stroke-width="1.9"/><ellipse cx="637.62" cy="1068.1" rx="4.9" ry="13.95" fill="#fff" stroke="#000" stroke-width="1.9"/><ellipse cx="641.61" cy="1068.1" rx="4.9" ry="13.95" fill="#fff" stroke="#000" stroke-width="1.9"/><ellipse cx="645.61" cy="1068.1" rx="4.9" ry="13.95" fill="#fff" stroke="#000" stroke-width="1.9"/><ellipse cx="649.60" cy="1068.1" rx="4.9" ry="13.95" fill="#fff" stroke="#000" stroke-width="1.9"/><line x1="651.60" y1="1068.1" x2="673" y2="1068.1" stroke="#fff" stroke-width="7"/><line x1="649.60" y1="1068.1" x2="673" y2="1068.1" stroke="#000" stroke-width="1.7"/><path d="M679.10,1068.10 L670.40,1071.30 Q672.00,1068.10 672.50,1068.10 Q672.00,1068.10 670.40,1064.90 Z" fill="#000" stroke="none"/><line x1="354.00" y1="1050.40" x2="354.00" y2="867.74" stroke="#000" stroke-width="1.7" stroke-dasharray="10.6 6.6"/><line x1="649.60" y1="1050.40" x2="649.60" y2="867.74" stroke="#000" stroke-width="1.7" stroke-dasharray="10.6 6.6"/><line x1="700.60" y1="971.60" x2="707.60" y2="951.80" stroke="#000" stroke-width="1.25"/><line x1="723.10" y1="959.40" x2="737.00" y2="959.40" stroke="#000" stroke-width="1.0"/><line x1="723.10" y1="964.40" x2="737.00" y2="964.40" stroke="#000" stroke-width="1.0"/><line x1="699.30" y1="1007.15" x2="706.30" y2="987.35" stroke="#000" stroke-width="1.25"/><line x1="721.80" y1="994.95" x2="735.70" y2="994.95" stroke="#000" stroke-width="1.0"/><line x1="721.80" y1="999.95" x2="735.70" y2="999.95" stroke="#000" stroke-width="1.0"/><line x1="699.30" y1="1042.70" x2="706.30" y2="1022.90" stroke="#000" stroke-width="1.25"/><line x1="721.80" y1="1030.50" x2="735.70" y2="1030.50" stroke="#000" stroke-width="1.0"/><line x1="721.80" y1="1035.50" x2="735.70" y2="1035.50" stroke="#000" stroke-width="1.0"/><line x1="699.30" y1="1078.25" x2="706.30" y2="1058.45" stroke="#000" stroke-width="1.25"/><line x1="721.80" y1="1066.05" x2="735.70" y2="1066.05" stroke="#000" stroke-width="1.0"/><line x1="721.80" y1="1071.05" x2="735.70" y2="1071.05" stroke="#000" stroke-width="1.0"/></svg>
<div class="ab" style="top:112.84px;left:774.10px;font-size:15px;font-family:'Liberation Serif', serif;line-height:30px;">C<span style="font-size:11.9px;letter-spacing:0.6px">ARTE</span></div><div class="ab" style="top:113.88px;left:821.00px;font-size:11.9px;font-family:'Liberation Serif', serif;line-height:30px;"><span style="letter-spacing:0.3px">DE</span></div><div class="ab" style="top:113.88px;left:841.00px;font-size:11.9px;font-family:'Liberation Serif', serif;line-height:30px;"><span style="letter-spacing:0.2px">CHAMP</span></div><div class="ln" style="top:492.98px;left:118.2px;width:768.6px;font-size:20.5px;text-align:justify;text-align-last:justify;">On parle d’<b>effet de bord</b> pour nommer le phénomène où les lignes de champ s’évasent à</div><div class="ln" style="top:517.98px;left:118.2px;width:768.6px;font-size:20.5px;text-align:justify;text-align-last:justify;">proximité des bords de la bobine. On conçoit que plus la bobine est longue, par rapport à son</div><div class="ln" style="top:542.98px;left:118.2px;width:768.6px;font-size:20.5px;text-align:justify;text-align-last:justify;">rayon, plus la zone touchée par les effets de bord est étroite. Cet effet est visible sur la figure</div><div class="ln" style="top:567.98px;left:118.2px;width:768.6px;font-size:20.5px;text-align:justify;text-align-last:justify;">26.9, où est tracé la norme du champ magnétique, sur l’axe de la bobine, pour des bobines de</div><div class="ln" style="top:592.98px;left:118.2px;width:768.6px;font-size:20.5px;text-align:justify;text-align-last:justify;">plus en plus longues par rapport à leur rayon. Le nombre <i>n</i> de spires par unité de longueur,</div><div class="ln" style="top:617.98px;left:118.2px;width:768.6px;font-size:20.5px;text-align:justify;text-align-last:justify;">le rayon <i>r</i>, ainsi que l’intensité <i>i</i> du courant, sont identiques dans chaque bobine&#8202;; seule la</div><div class="ln" style="top:642.98px;left:118.2px;width:768.6px;font-size:20.5px;text-align:justify;text-align-last:justify;">longueur <i>ℓ</i> varie. <i>B</i>&#8201;(<i>x</i>) est la norme du champ magnétique à l’abscisse <i>x</i>, repérée par rapport</div><div class="ln" style="top:667.98px;left:118.2px;width:768.6px;font-size:20.5px;text-align:left;">au centre de la bobine.</div><div class="ln" style="top:1205.58px;left:118.2px;width:768.6px;font-size:20.5px;text-align:justify;text-align-last:justify;">Pour les deux bobines les plus longues, <i style="margin-left:2px;font-size:21.5px;line-height:0">ℓ</i><span style="display:inline-block;width:10px;margin-left:0px;text-align:center;transform:translateY(1.5px) scaleY(1.45) skewX(-16deg)">/</span><i style="margin-left:0.5px;margin-right:1.5px;font-size:21px">R</i><span style="display:inline-block;margin:0 5.5px 0 5.5px;transform:scaleX(1.3)">=</span>10 ou 20, la norme du champ magnétique vaut</div><div class="ln" style="top:1230.58px;left:118.2px;width:768.6px;font-size:20.5px;text-align:justify;text-align-last:justify;"><span style="margin-left:1.8px;letter-spacing:1.2px"><i>μ</i><sub>0</sub><i>ni</i></span> presque partout, sauf proche des bords. Mais pour les deux bobines les plus courtes,</div><div class="ln" style="top:1255.58px;left:118.2px;width:768.6px;font-size:20.5px;text-align:justify;text-align-last:justify;word-spacing:-2px;"><i style="margin-left:2px;font-size:21.5px;line-height:0">ℓ</i><span style="display:inline-block;width:10px;margin-left:0px;text-align:center;transform:translateY(1.5px) scaleY(1.45) skewX(-16deg)">/</span><i style="margin-left:0.5px;margin-right:1.5px;font-size:21px">R</i><span style="display:inline-block;margin:0 5.5px 0 5.5px;transform:scaleX(1.3)">=</span>2,&#8202;5 ou 5, la norme du champ est inférieure à <span style="margin-left:1.8px;letter-spacing:1.2px"><i>μ</i><sub>0</sub><i>ni</i></span>&#8201;; la zone où les effets de bord ne sont</div><div class="ln" style="top:1280.58px;left:118.2px;width:768.6px;font-size:20.5px;text-align:left;">pas négligeables occupe l’intégralité de la bobine.</div><div class="ab" style="top:402.28px;left:181.98px;font-size:16.8px;font-family:'Liberation Sans', sans-serif;font-style:normal;font-weight:bold;line-height:40px">Figure 26.8</div><div style="position:absolute;left:279.9px;top:422px;width:9.2px;height:2px;background:#000"></div><div class="ab" style="top:402.28px;left:297.87px;font-size:16.8px;font-family:'Liberation Sans', sans-serif;font-style:normal;font-weight:normal;line-height:40px">Zoom des lignes de champ magnétique, en noir, d’une bobine, en gris.</div><div class="ab" style="top:1091.68px;left:183.98px;font-size:16.8px;font-family:'Liberation Sans', sans-serif;font-style:normal;font-weight:bold;line-height:40px">Figure 26.9</div><div style="position:absolute;left:281.9px;top:1111.4px;width:9.2px;height:2px;background:#000"></div><div class="ab" style="top:1091.68px;left:299.02px;font-size:16.8px;font-family:'Liberation Sans', sans-serif;font-style:normal;font-weight:normal;line-height:40px">Norme du champ magnétique sur l’axe de diverses bobines : effets de</div><div class="ab" style="top:1114.98px;left:482.62px;font-size:16.8px;font-family:'Liberation Sans', sans-serif;font-style:normal;font-weight:normal;line-height:40px">bord.</div><div class="ab" style="top:1331.65px;left:858.30px;font-size:16.3px;font-family:'Liberation Sans', sans-serif;line-height:30px;"><b>935</b></div><div class="ab" style="top:172.26px;left:280.94px;font-size:20.85px;font-family:'Liberation Serif', serif;font-style:normal;font-weight:normal;line-height:40px">zones où les effets de bords ne sont plus négligeables</div><div class="ab" style="top:363.05px;left:399.74px;font-size:20.9px;font-family:'Liberation Serif', serif;font-style:normal;font-weight:normal;line-height:40px">zone de champ uniforme</div><div class="ab" style="top:719.78px;left:482.01px;font-size:20.5px;font-family:'Liberation Serif', serif;font-style:italic;font-weight:normal;line-height:40px">B</div><div class="ab" style="top:720.74px;left:497.49px;font-size:23px;font-family:'Liberation Serif', serif;font-style:normal;font-weight:normal;line-height:40px">(</div><div class="ab" style="top:719.78px;left:504.35px;font-size:20.5px;font-family:'Liberation Serif', serif;font-style:italic;font-weight:normal;line-height:40px">x</div><div class="ab" style="top:720.74px;left:513.66px;font-size:23px;font-family:'Liberation Serif', serif;font-style:normal;font-weight:normal;line-height:40px">)</div><div class="ab" style="top:758.68px;left:511.32px;font-size:20.5px;font-family:'Liberation Serif', serif;font-style:italic;font-weight:normal;line-height:40px">μ</div><div class="ab" style="top:764.44px;left:521.83px;font-size:15px;font-family:'Liberation Serif', serif;font-style:normal;font-weight:normal;line-height:40px">0</div><div class="ab" style="top:758.68px;left:530.07px;font-size:20.5px;font-family:'Liberation Serif', serif;font-style:italic;font-weight:normal;line-height:40px">n</div><div class="ab" style="top:758.68px;left:539.16px;font-size:20.5px;font-family:'Liberation Serif', serif;font-style:italic;font-weight:normal;line-height:40px">i</div><div class="ab" style="top:915.98px;left:835.45px;font-size:20.5px;font-family:'Liberation Serif', serif;font-style:italic;font-weight:normal;line-height:40px">x</div><div class="ab" style="top:939.51px;left:689.47px;font-size:21px;font-family:'Liberation Serif', serif;font-style:italic;font-weight:normal;line-height:40px">ℓ</div><div class="ab" style="top:939.85px;left:708.79px;font-size:20px;font-family:'Liberation Serif', serif;font-style:italic;font-weight:normal;line-height:40px">r</div><div class="ab" style="top:939.85px;left:742.82px;font-size:20px;font-family:'Liberation Serif', serif;font-style:normal;font-weight:normal;line-height:40px">2</div><div class="ab" style="top:939.85px;left:754.14px;font-size:20px;font-family:'Liberation Serif', serif;font-style:normal;font-weight:normal;line-height:40px">,</div><div class="ab" style="top:939.85px;left:760.84px;font-size:20px;font-family:'Liberation Serif', serif;font-style:normal;font-weight:normal;line-height:40px">5</div><div class="ab" style="top:975.06px;left:688.17px;font-size:21px;font-family:'Liberation Serif', serif;font-style:italic;font-weight:normal;line-height:40px">ℓ</div><div class="ab" style="top:975.40px;left:707.49px;font-size:20px;font-family:'Liberation Serif', serif;font-style:italic;font-weight:normal;line-height:40px">r</div><div class="ab" style="top:975.40px;left:741.24px;font-size:20px;font-family:'Liberation Serif', serif;font-style:normal;font-weight:normal;line-height:40px">5</div><div class="ab" style="top:1010.61px;left:688.17px;font-size:21px;font-family:'Liberation Serif', serif;font-style:italic;font-weight:normal;line-height:40px">ℓ</div><div class="ab" style="top:1010.95px;left:707.49px;font-size:20px;font-family:'Liberation Serif', serif;font-style:italic;font-weight:normal;line-height:40px">r</div><div class="ab" style="top:1010.95px;left:740.64px;font-size:20px;font-family:'Liberation Serif', serif;font-style:normal;font-weight:normal;line-height:40px">10</div><div class="ab" style="top:1046.16px;left:688.17px;font-size:21px;font-family:'Liberation Serif', serif;font-style:italic;font-weight:normal;line-height:40px">ℓ</div><div class="ab" style="top:1046.50px;left:707.49px;font-size:20px;font-family:'Liberation Serif', serif;font-style:italic;font-weight:normal;line-height:40px">r</div><div class="ab" style="top:1046.50px;left:741.52px;font-size:20px;font-family:'Liberation Serif', serif;font-style:normal;font-weight:normal;line-height:40px">20</div>
</body></html>
